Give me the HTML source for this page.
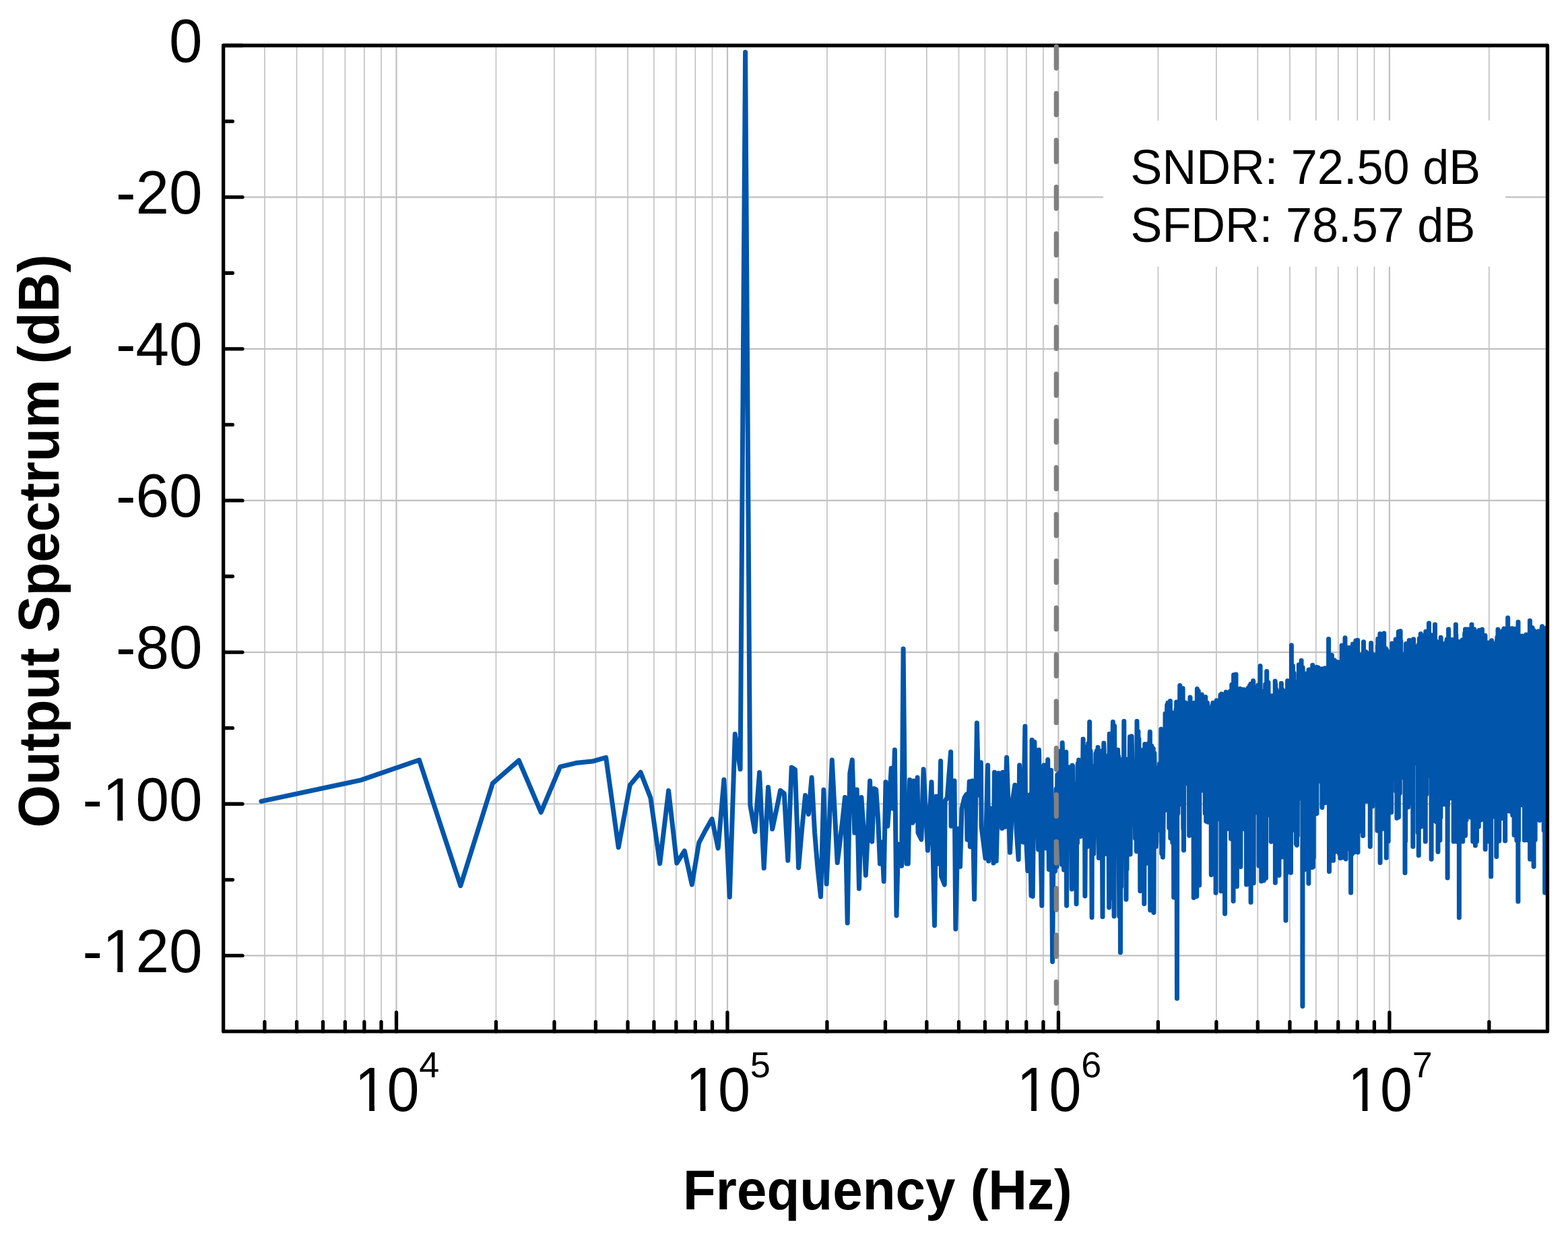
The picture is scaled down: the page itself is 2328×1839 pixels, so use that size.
<!DOCTYPE html>
<html><head><meta charset="utf-8"><title>Output Spectrum</title>
<style>html,body{margin:0;padding:0;background:#fff;overflow:hidden}svg{display:block}</style>
</head><body>
<svg width="2328" height="1839" viewBox="0 0 2328 1839">
<rect width="2328" height="1839" fill="#fff"/>
<path d="M392.92 67.5V1530.9M440.55 67.5V1530.9M479.47 67.5V1530.9M512.37 67.5V1530.9M540.87 67.5V1530.9M566.01 67.5V1530.9M736.45 67.5V1530.9M822.99 67.5V1530.9M884.39 67.5V1530.9M932.02 67.5V1530.9M970.94 67.5V1530.9M1003.84 67.5V1530.9M1032.34 67.5V1530.9M1057.48 67.5V1530.9M1227.92 67.5V1530.9M1314.46 67.5V1530.9M1375.86 67.5V1530.9M1423.49 67.5V1530.9M1462.41 67.5V1530.9M1495.31 67.5V1530.9M1523.81 67.5V1530.9M1548.95 67.5V1530.9M1719.39 67.5V1530.9M1805.93 67.5V1530.9M1867.33 67.5V1530.9M1914.96 67.5V1530.9M1953.88 67.5V1530.9M1986.78 67.5V1530.9M2015.28 67.5V1530.9M2040.42 67.5V1530.9M2210.86 67.5V1530.9" stroke="#c0c0c0" stroke-width="1.6" fill="none"/>
<path d="M588.50 67.5V1530.9M1079.97 67.5V1530.9M1571.44 67.5V1530.9M2062.91 67.5V1530.9M331.6 292.65H2297.5M331.6 517.80H2297.5M331.6 742.95H2297.5M331.6 968.10H2297.5M331.6 1193.25H2297.5M331.6 1418.40H2297.5" stroke="#c0c0c0" stroke-width="2.2" fill="none"/>
<defs><clipPath id="pc"><rect x="331.6" y="67.5" width="1965.9" height="1463.4"/></clipPath></defs><path clip-path="url(#pc)" d="M387.9 1189.4L535.8 1157.9 622.4 1128.0 683.8 1314.7 731.4 1162.7 770.3 1128.6 803.2 1205.7 831.7 1138.2 856.8 1132.2 879.3 1130.1 899.7 1124.4 918.2 1257.8 935.3 1165.2 951.1 1146.2 965.9 1184.2 979.7 1281.8 992.6 1173.6 1004.8 1281.0 1016.3 1262.9 1027.3 1313.0 1037.7 1250.9 1047.6 1232.0 1057.1 1215.6 1066.2 1259.0 1074.9 1157.3 1083.3 1331.4 1091.3 1089.5 1099.1 1141.7 1106.6 77.5 1113.8 1195.0 1120.8 1234.4 1127.6 1146.4 1134.2 1288.5 1140.5 1168.5 1146.7 1230.6 1152.7 1202.3 1158.6 1173.3 1164.3 1177.8 1169.8 1277.2 1175.2 1139.0 1180.5 1142.2 1185.6 1288.0 1190.7 1229.8 1195.6 1180.5 1200.4 1208.5 1205.1 1154.1 1209.6 1236.0 1214.1 1290.0 1218.5 1331.0 1222.9 1172.2 1227.1 1312.0 1231.2 1225.0 1235.3 1127.9 1239.3 1205.0 1243.2 1280.5 1247.0 1250.0 1250.8 1218.0 1254.5 1183.6 1258.2 1370.0 1261.8 1147.5 1265.3 1127.9 1268.8 1236.1 1272.2 1172.1 1275.5 1319.0 1278.9 1183.6 1282.1 1230.0 1285.3 1299.2 1288.5 1234.8 1291.6 1159.0 1294.7 1249.2 1297.7 1170.5 1300.7 1172.0 1303.6 1215.0 1306.5 1282.0 1309.4 1250.0 1312.2 1308.2 1315.0 1160.7 1317.8 1226.2 1320.5 1190.0 1323.2 1140.2 1325.8 1200.0 1328.4 1113.1 1331.0 1359.0 1333.6 1253.0 1336.1 1262.0 1338.6 1285.2 1341.1 962.9 1343.5 1200.0 1345.9 1282.0 1348.3 1282.0 1350.7 1157.4 1354.8 1221.3 1356.4 1159.0 1358.9 1218.0 1362.1 1154.1 1363.0 1236.0 1367.9 1246.0 1371.1 1141.8 1377.4 1262.3 1383.0 1160.7 1387.5 1373.8 1390.0 1182.0 1393.3 1282.0 1396.6 1129.5 1397.4 1300.0 1402.3 1313.1 1403.1 1189.3 1406.4 1183.6 1411.6 1116.0 1412.1 1226.2 1417.0 1159.0 1418.8 1379.0 1422.0 1230.0 1425.5 1286.3 1428.0 1200.0 1431.8 1184.2 1435.0 1179.0 1436.0 1246.3 1439.2 1160.0 1440.3 1256.8 1443.4 1159.0 1446.6 1334.7 1450.4 1072.9 1453.0 1180.0 1456.4 1131.8 1457.1 1227.4 1463.0 1273.7 1466.6 1135.8 1467.6 1278.0 1471.0 1200.0 1475.0 1281.0 1476.5 1146.3 1479.2 1278.0 1482.4 1147.4 1487.6 1229.5 1488.7 1146.3 1491.7 1227.4 1494.6 1124.2 1499.5 1265.3 1503.0 1190.0 1506.8 1165.3 1509.0 1230.0 1512.1 1275.8 1513.6 1135.8 1516.0 1200.0 1519.0 1250.0 1521.9 1078.1 1522.6 1223.0 1525.8 1292.6 1528.0 1180.0 1531.0 1329.5 1532.1 1098.2 1533.2 1330.5 1535.9 1101.3 1538.0 1240.0 1540.0 1180.0 1541.6 1261.0 1542.5 1112.9 1546.8 1344.2 1548.0 1180.0 1550.0 1135.8 1553.2 1259.0 1555.7 1127.6 1557.4 1290.5 1560.5 1143.2 1562.6 1427.4 1564.5 1200.0 1566.4 1293.3 1567.2 1234.8 1568.1 1171.1 1568.9 1286.5 1569.8 1150.0 1570.6 1224.5 1571.4 1199.9 1572.3 1133.3 1573.1 1141.3 1573.9 1115.0 1574.7 1129.1 1575.6 1176.5 1576.4 1283.2 1577.2 1102.4 1578.0 1133.4 1578.8 1242.5 1579.6 1291.1 1580.4 1134.2 1581.2 1270.0 1582.0 1151.2 1582.8 1116.2 1583.6 1344.3 1584.4 1158.6 1585.2 1161.8 1585.9 1146.1 1586.7 1142.2 1587.5 1138.8 1588.3 1151.4 1589.0 1152.7 1589.8 1169.5 1590.6 1194.7 1591.3 1319.8 1592.1 1135.9 1592.8 1137.3 1593.6 1236.7 1594.3 1163.8 1595.1 1252.0 1595.8 1265.8 1596.6 1228.0 1597.3 1179.9 1598.1 1341.8 1598.8 1206.7 1599.5 1251.6 1600.3 1133.2 1601.0 1171.6 1601.7 1127.9 1602.4 1150.0 1603.1 1189.7 1603.9 1241.6 1604.6 1181.0 1605.3 1174.5 1606.0 1183.2 1606.7 1172.2 1607.4 1154.3 1608.1 1097.0 1608.8 1170.3 1609.5 1146.3 1610.2 1108.7 1610.9 1330.1 1611.6 1226.8 1612.3 1118.1 1613.0 1160.5 1613.7 1161.2 1614.3 1256.8 1615.0 1194.0 1615.7 1103.4 1616.4 1180.9 1617.1 1150.4 1617.7 1071.5 1618.4 1223.1 1619.1 1114.8 1619.7 1154.8 1620.4 1152.7 1621.1 1361.7 1621.7 1137.4 1622.4 1231.4 1623.0 1160.2 1623.7 1267.5 1624.3 1238.5 1625.0 1167.4 1625.6 1164.1 1626.3 1214.6 1626.9 1118.5 1627.6 1168.0 1628.2 1114.5 1628.8 1144.6 1629.5 1149.4 1630.1 1109.3 1630.7 1135.4 1631.4 1273.5 1632.0 1145.5 1632.6 1259.5 1633.3 1172.5 1633.9 1251.1 1634.5 1151.8 1635.1 1151.7 1635.7 1114.8 1636.4 1239.6 1637.0 1360.8 1637.6 1131.4 1638.2 1169.2 1638.8 1103.0 1639.4 1125.0 1640.0 1212.5 1640.6 1267.5 1641.2 1192.8 1641.8 1203.0 1642.4 1122.1 1643.0 1146.0 1643.6 1228.1 1644.2 1263.5 1644.8 1245.6 1645.4 1227.9 1646.0 1232.8 1646.6 1346.9 1647.2 1089.3 1647.7 1260.3 1648.3 1190.8 1648.9 1126.2 1649.5 1134.6 1650.1 1128.5 1650.6 1226.1 1651.2 1332.7 1651.8 1117.2 1652.4 1071.5 1652.9 1184.6 1653.5 1254.1 1654.1 1360.0 1654.6 1077.5 1655.2 1159.8 1655.7 1219.4 1656.3 1246.4 1656.9 1186.6 1657.4 1152.3 1658.0 1186.8 1658.5 1113.5 1659.1 1203.2 1659.6 1112.9 1660.2 1133.3 1660.7 1122.4 1661.3 1273.5 1661.8 1360.0 1662.4 1127.0 1662.9 1243.8 1663.5 1413.8 1664.0 1209.2 1664.6 1316.3 1665.1 1198.7 1665.6 1170.0 1666.2 1152.2 1666.7 1145.5 1667.2 1150.0 1667.8 1211.2 1668.3 1202.4 1668.8 1070.5 1669.3 1212.7 1669.9 1131.3 1670.4 1227.6 1670.9 1263.0 1671.4 1146.5 1672.0 1335.0 1672.5 1140.8 1673.0 1290.2 1673.5 1127.2 1674.0 1208.7 1674.6 1158.0 1675.1 1233.2 1675.6 1134.6 1676.1 1200.0 1676.6 1143.5 1677.1 1135.9 1677.6 1093.4 1678.1 1268.0 1678.6 1183.7 1679.1 1120.5 1679.6 1104.2 1680.1 1092.8 1680.6 1115.4 1681.1 1145.9 1681.6 1138.9 1682.1 1176.0 1682.6 1150.2 1683.1 1217.3 1683.6 1160.7 1684.1 1130.5 1684.6 1215.2 1685.1 1195.8 1685.6 1244.5 1686.1 1244.3 1686.6 1157.5 1687.0 1201.1 1687.5 1263.7 1688.0 1070.5 1688.5 1136.7 1689.0 1188.8 1689.5 1138.0 1689.9 1085.5 1690.4 1177.1 1690.9 1096.5 1691.4 1196.2 1691.8 1235.5 1692.3 1144.2 1692.8 1322.4 1693.3 1252.8 1693.7 1124.2 1694.2 1193.9 1694.7 1144.0 1695.1 1254.9 1695.6 1113.6 1696.1 1159.8 1696.5 1157.4 1697.0 1141.2 1697.5 1187.7 1697.9 1138.9 1698.4 1112.3 1698.8 1341.5 1699.3 1181.7 1699.8 1104.6 1700.2 1157.4 1700.7 1109.6 1701.1 1150.5 1701.6 1107.0 1702.0 1124.5 1702.5 1113.6 1702.9 1259.9 1703.4 1154.8 1703.8 1118.1 1704.3 1281.2 1704.7 1104.0 1705.2 1157.5 1705.6 1117.9 1706.1 1185.9 1706.5 1155.9 1706.9 1103.7 1707.4 1086.3 1707.8 1351.1 1708.3 1152.3 1708.7 1180.6 1709.1 1189.5 1709.6 1137.8 1710.0 1107.3 1710.4 1131.6 1710.9 1240.5 1711.3 1226.2 1711.7 1149.9 1712.2 1111.0 1712.6 1163.4 1713.0 1354.6 1713.5 1192.8 1713.9 1117.7 1714.3 1143.2 1714.8 1154.3 1715.2 1158.6 1715.6 1139.7 1716.0 1187.0 1716.4 1256.6 1716.9 1248.7 1717.3 1182.8 1717.7 1205.1 1718.1 1153.1 1718.6 1151.8 1719.0 1232.4 1719.4 1187.8 1719.8 1219.2 1720.2 1203.1 1720.6 1174.5 1721.0 1163.8 1721.5 1133.7 1721.9 1180.1 1722.3 1148.3 1722.7 1159.8 1723.1 1195.5 1723.5 1212.1 1723.9 1082.3 1724.3 1185.9 1724.7 1267.0 1725.1 1138.8 1725.6 1193.5 1726.0 1201.8 1726.4 1272.3 1726.8 1255.0 1727.2 1213.2 1727.6 1158.5 1728.0 1179.6 1728.4 1121.3 1728.8 1111.6 1729.2 1115.6 1729.6 1202.8 1730.0 1059.3 1730.4 1082.9 1730.8 1090.4 1731.1 1074.5 1731.5 1182.6 1731.9 1058.3 1732.3 1082.6 1732.7 1046.5 1733.1 1112.6 1733.5 1135.0 1733.9 1043.2 1734.3 1121.0 1734.7 1068.5 1735.1 1132.0 1735.4 1057.6 1735.8 1228.9 1736.2 1195.5 1736.6 1108.9 1737.0 1105.9 1737.4 1040.6 1737.8 1243.9 1738.1 1117.1 1738.5 1142.7 1738.9 1118.4 1739.3 1057.2 1739.7 1100.6 1740.0 1137.9 1740.4 1092.6 1740.8 1250.7 1741.2 1089.2 1741.5 1073.4 1741.9 1136.0 1742.3 1128.5 1742.7 1331.9 1743.0 1153.3 1743.4 1331.9 1743.8 1067.5 1744.2 1148.3 1744.5 1150.9 1744.9 1113.2 1745.3 1120.2 1745.6 1063.2 1746.0 1052.5 1746.4 1079.8 1746.7 1042.1 1747.1 1158.2 1747.5 1482.0 1747.8 1153.4 1748.2 1125.9 1748.6 1066.2 1748.9 1207.3 1749.3 1089.9 1749.7 1080.5 1750.0 1140.1 1750.4 1122.6 1750.7 1085.6 1751.1 1136.1 1751.5 1057.8 1751.8 1017.5 1752.2 1193.7 1752.5 1156.1 1752.9 1076.1 1753.2 1102.7 1753.6 1132.8 1754.0 1110.5 1754.3 1039.5 1754.7 1129.5 1755.0 1157.2 1755.4 1134.1 1755.7 1159.1 1756.1 1021.7 1756.4 1079.4 1756.8 1230.3 1757.1 1099.9 1757.5 1261.9 1757.8 1180.1 1758.2 1077.3 1758.5 1161.6 1758.9 1092.1 1759.2 1070.8 1759.5 1162.3 1759.9 1042.9 1760.2 1078.8 1760.6 1076.3 1760.9 1055.4 1761.3 1090.8 1761.6 1106.2 1762.0 1119.2 1762.3 1103.2 1762.6 1122.4 1763.0 1138.3 1763.3 1162.9 1763.7 1100.7 1764.0 1116.8 1764.3 1080.9 1764.7 1071.4 1765.0 1127.8 1765.3 1056.1 1765.7 1240.3 1766.0 1043.4 1766.3 1114.2 1766.7 1104.8 1767.0 1035.0 1767.3 1114.2 1767.7 1102.4 1768.0 1132.4 1768.3 1095.9 1768.7 1088.3 1769.0 1093.1 1769.3 1133.9 1769.7 1095.5 1770.0 1101.8 1770.3 1193.8 1770.7 1075.7 1771.0 1053.4 1771.3 1203.5 1771.6 1088.5 1772.0 1163.5 1772.3 1332.4 1772.6 1059.5 1772.9 1131.4 1773.3 1043.2 1773.6 1138.9 1773.9 1131.5 1774.2 1089.2 1774.6 1096.1 1774.9 1202.2 1775.2 1076.4 1775.5 1119.5 1775.8 1110.1 1776.2 1077.4 1776.5 1074.9 1776.8 1330.5 1777.1 1092.4 1777.4 1022.6 1777.7 1235.4 1778.1 1086.0 1778.4 1101.3 1778.7 1176.3 1779.0 1174.2 1779.3 1025.7 1779.6 1231.6 1780.0 1064.3 1780.3 1096.6 1780.6 1314.0 1780.9 1079.9 1781.2 1090.0 1781.5 1080.0 1781.8 1115.5 1782.1 1145.9 1782.5 1056.5 1782.8 1110.1 1783.1 1152.4 1783.4 1116.9 1783.7 1090.6 1784.0 1165.0 1784.3 1031.0 1784.6 1040.1 1784.9 1057.6 1785.2 1135.0 1785.5 1097.9 1785.8 1172.9 1786.1 1153.6 1786.4 1084.3 1786.8 1123.2 1787.1 1100.6 1787.4 1108.6 1787.7 1144.0 1788.0 1047.2 1788.3 1086.2 1788.6 1073.0 1788.9 1062.8 1789.2 1207.2 1789.5 1119.6 1789.8 1034.4 1790.1 1107.0 1790.4 1174.9 1790.7 1219.1 1791.0 1141.7 1791.3 1214.9 1791.6 1077.6 1791.9 1100.7 1792.2 1163.5 1792.5 1043.3 1792.7 1160.6 1793.0 1091.7 1793.3 1140.0 1793.6 1220.3 1793.9 1052.8 1794.2 1130.1 1794.5 1074.7 1794.8 1080.3 1795.1 1099.6 1795.4 1077.5 1795.7 1095.3 1796.0 1143.1 1796.3 1070.6 1796.6 1068.9 1796.8 1052.0 1797.1 1089.9 1797.4 1150.1 1797.7 1119.5 1798.0 1054.8 1798.3 1298.5 1798.6 1053.6 1798.9 1077.8 1799.2 1049.5 1799.4 1075.2 1799.7 1068.4 1800.0 1046.4 1800.3 1135.9 1800.6 1193.5 1800.9 1043.2 1801.2 1253.3 1801.4 1137.5 1801.7 1144.2 1802.0 1181.4 1802.3 1116.5 1802.6 1068.8 1802.9 1080.9 1803.1 1132.3 1803.4 1079.2 1803.7 1170.3 1804.0 1141.2 1804.3 1102.3 1804.5 1093.6 1804.8 1155.8 1805.1 1325.3 1805.4 1042.7 1805.7 1090.7 1805.9 1064.8 1806.2 1039.8 1806.5 1066.5 1806.8 1058.8 1807.0 1113.6 1807.3 1105.4 1807.6 1062.9 1807.9 1051.3 1808.1 1109.3 1808.4 1049.2 1808.7 1090.8 1809.0 1058.9 1809.2 1078.9 1809.5 1104.4 1809.8 1172.5 1810.1 1092.6 1810.3 1156.0 1810.6 1170.9 1810.9 1106.9 1811.1 1100.0 1811.4 1216.4 1811.7 1096.2 1812.0 1031.8 1812.2 1044.5 1812.5 1108.4 1812.8 1089.0 1813.0 1322.7 1813.3 1058.7 1813.6 1030.0 1813.8 1070.2 1814.1 1171.9 1814.4 1078.1 1814.6 1046.4 1814.9 1148.0 1815.2 1051.1 1815.4 1062.6 1815.7 1047.1 1816.0 1073.2 1816.2 1090.7 1816.5 1115.1 1816.8 1105.6 1817.0 1067.5 1817.3 1099.9 1817.6 1124.0 1817.8 1075.4 1818.1 1143.1 1818.3 1091.6 1818.6 1356.2 1818.9 1087.6 1819.1 1134.2 1819.4 1073.6 1819.7 1094.1 1819.9 1087.7 1820.2 1027.2 1820.4 1069.0 1820.7 1197.0 1821.0 1112.7 1821.2 1159.9 1821.5 1077.4 1821.7 1054.5 1822.0 1093.6 1822.2 1148.5 1822.5 1046.6 1822.8 1230.1 1823.0 1143.0 1823.3 1072.9 1823.5 1102.9 1823.8 1167.1 1824.0 1066.8 1824.3 1063.3 1824.5 1130.3 1824.8 1056.2 1825.1 1101.7 1825.3 1063.5 1825.6 1119.2 1825.8 1170.4 1826.1 1054.8 1826.3 1026.3 1826.6 1148.8 1826.8 1125.1 1827.1 1083.0 1827.3 1041.4 1827.6 1244.9 1827.8 1061.8 1828.1 1151.0 1828.3 1088.4 1828.6 1125.4 1828.8 1016.2 1829.1 1158.1 1829.3 1075.9 1829.6 1035.2 1829.8 1203.4 1830.1 1089.5 1830.3 1055.6 1830.6 1058.1 1830.8 1101.7 1831.1 1337.5 1831.3 1098.8 1831.6 1001.7 1831.8 1180.7 1832.1 1129.9 1832.3 1098.0 1832.5 1058.5 1832.8 1139.6 1833.0 1015.6 1833.3 1083.0 1833.5 1031.1 1833.8 1109.1 1834.0 1240.0 1834.3 1099.8 1834.5 1138.6 1834.7 1079.7 1835.0 1001.0 1835.2 1224.6 1835.5 1075.9 1835.7 1143.2 1836.0 1066.0 1836.2 1131.1 1836.4 1315.7 1836.7 1070.8 1836.9 1101.3 1837.2 1108.5 1837.4 1079.9 1837.6 1179.5 1837.9 1025.5 1838.1 1154.1 1838.4 1040.1 1838.6 1141.9 1838.8 1078.3 1839.1 1040.2 1839.3 1041.3 1839.5 1129.4 1839.8 1076.7 1840.0 1154.1 1840.3 1083.9 1840.5 1102.2 1840.7 1210.7 1841.0 1022.3 1841.2 1155.6 1841.4 1095.2 1841.7 1064.6 1841.9 1286.6 1842.1 1060.7 1842.4 1177.0 1842.6 1077.7 1842.8 1065.6 1843.1 1062.2 1843.3 1135.9 1843.5 1072.7 1843.8 1145.1 1844.0 1151.0 1844.2 1023.5 1844.5 1098.1 1844.7 1065.5 1844.9 1230.6 1845.2 1139.5 1845.4 1050.0 1845.6 1166.8 1845.9 1025.6 1846.1 1139.7 1846.3 1140.6 1846.6 1023.5 1846.8 1111.3 1847.0 1078.6 1847.2 1076.4 1847.5 1085.3 1847.7 1070.4 1847.9 1044.5 1848.2 1105.4 1848.4 1074.7 1848.6 1110.9 1848.8 1063.1 1849.1 1143.4 1849.3 1076.0 1849.5 1114.5 1849.7 1052.8 1850.0 1070.6 1850.2 1103.0 1850.4 1212.2 1850.6 1312.9 1850.9 1055.4 1851.1 1224.6 1851.3 1262.7 1851.5 1032.4 1851.8 1040.9 1852.0 1303.6 1852.2 1037.3 1852.4 1044.5 1852.7 1094.1 1852.9 1021.5 1853.1 1033.7 1853.3 1123.0 1853.6 1128.2 1853.8 1098.0 1854.0 1027.7 1854.2 1205.3 1854.4 1089.5 1854.7 1097.9 1854.9 1056.7 1855.1 1084.3 1855.3 1017.9 1855.6 1153.2 1855.8 1080.1 1856.0 1110.3 1856.2 1109.1 1856.4 1075.8 1856.6 1029.1 1856.9 1015.2 1857.1 1339.2 1857.3 1203.5 1857.5 1036.0 1857.7 1069.6 1858.0 1083.5 1858.2 1082.7 1858.4 1164.9 1858.6 1075.5 1858.8 1069.9 1859.0 1088.7 1859.3 1073.4 1859.5 1100.8 1859.7 1032.8 1859.9 1085.9 1860.1 1126.8 1860.3 1171.7 1860.6 1010.4 1860.8 1012.0 1861.0 1265.0 1861.2 1310.8 1861.4 1036.1 1861.6 1068.0 1861.8 1091.7 1862.1 1161.9 1862.3 1093.8 1862.5 1161.2 1862.7 1069.1 1862.9 1046.8 1863.1 1052.1 1863.3 1059.1 1863.5 1098.1 1863.8 1120.0 1864.0 1022.7 1864.2 1114.2 1864.4 1064.1 1864.6 1057.2 1864.8 1081.3 1865.0 1142.6 1865.2 1081.3 1865.5 1026.2 1865.7 1066.1 1865.9 1035.6 1866.1 1035.9 1866.3 1026.7 1866.5 1062.1 1866.7 1071.1 1866.9 1206.5 1867.1 1133.3 1867.3 1019.8 1867.5 1119.7 1867.8 1071.7 1868.0 1016.9 1868.2 1045.3 1868.4 1134.8 1868.6 1094.9 1868.8 1063.9 1869.0 1285.0 1869.2 1259.7 1869.4 1068.3 1869.6 1137.5 1869.8 1196.5 1870.0 1068.4 1870.2 1085.9 1870.4 1110.1 1870.6 1082.4 1870.8 1137.0 1871.1 988.4 1871.3 1093.0 1871.5 1042.8 1871.7 1104.0 1871.9 1056.1 1872.1 1102.3 1872.3 1124.9 1872.5 1045.8 1872.7 1308.1 1872.9 1144.9 1873.1 1077.6 1873.3 1045.1 1873.5 1092.8 1873.7 1051.1 1873.9 1212.3 1874.1 1084.9 1874.3 1158.1 1874.5 1238.6 1874.7 1031.2 1874.9 1063.7 1875.1 1063.1 1875.3 1040.7 1875.5 1060.2 1875.7 1078.7 1875.9 1025.9 1876.1 1137.7 1876.3 1306.9 1876.5 1137.2 1876.7 1071.2 1876.9 1157.3 1877.1 1076.6 1877.3 1093.8 1877.5 1096.7 1877.7 1067.6 1877.9 1181.3 1878.1 1148.0 1878.3 1027.5 1878.5 1070.0 1878.7 1015.8 1878.9 1060.7 1879.1 1251.0 1879.3 1100.8 1879.5 1303.5 1879.7 1051.2 1879.9 1153.1 1880.1 1145.9 1880.3 1135.2 1880.5 1126.9 1880.7 996.5 1880.9 1062.8 1881.1 1027.1 1881.3 1034.4 1881.4 1044.7 1881.6 1042.1 1881.8 1042.8 1882.0 1065.8 1882.2 1027.3 1882.4 1052.5 1882.6 1090.5 1882.8 1135.1 1883.0 1013.1 1883.2 1063.9 1883.4 1197.9 1883.6 1103.6 1883.8 1106.4 1884.0 1209.6 1884.2 1117.6 1884.4 1035.1 1884.5 1062.3 1884.7 1093.5 1884.9 1119.7 1885.1 1093.2 1885.3 1067.1 1885.5 1129.7 1885.7 1082.6 1885.9 1115.1 1886.1 1129.2 1886.3 1060.8 1886.5 1062.0 1886.7 1047.9 1886.8 1078.9 1887.0 1036.7 1887.2 1249.3 1887.4 1069.1 1887.6 1152.7 1887.8 1062.5 1888.0 1177.4 1888.2 1032.7 1888.4 1083.5 1888.5 1066.2 1888.7 1215.5 1888.9 1087.2 1889.1 1244.4 1889.3 1064.7 1889.5 1131.3 1889.7 1068.5 1889.9 1101.0 1890.1 1124.3 1890.2 1121.7 1890.4 1191.9 1890.6 1076.7 1890.8 1070.8 1891.0 1046.4 1891.2 1059.5 1891.4 1136.3 1891.5 1165.6 1891.7 1151.2 1891.9 1105.8 1892.1 1040.4 1892.3 1041.9 1892.5 1113.3 1892.7 1094.1 1892.8 1059.3 1893.0 1221.1 1893.2 1010.9 1893.4 1310.3 1893.6 1140.9 1893.8 1015.7 1894.0 1098.7 1894.1 1187.3 1894.3 1099.0 1894.5 1064.9 1894.7 1023.0 1894.9 1090.5 1895.1 1057.0 1895.2 1151.5 1895.4 1045.2 1895.6 1042.4 1895.8 1050.1 1896.0 1090.2 1896.1 1091.6 1896.3 1106.2 1896.5 1059.3 1896.7 1061.0 1896.9 1034.3 1897.1 1132.5 1897.2 1027.7 1897.4 1179.8 1897.6 1057.6 1897.8 1056.9 1898.0 1029.2 1898.1 1053.3 1898.3 1156.3 1898.5 1073.3 1898.7 1072.7 1898.9 1057.8 1899.0 1299.3 1899.2 1084.3 1899.4 1075.1 1899.6 1105.4 1899.8 1062.8 1899.9 1140.6 1900.1 1069.6 1900.3 1096.6 1900.5 1134.5 1900.7 1035.9 1900.8 1057.0 1901.0 1054.7 1901.2 1183.6 1901.4 1154.9 1901.5 1123.3 1901.7 1123.5 1901.9 1023.4 1902.1 1211.7 1902.3 1034.3 1902.4 1014.3 1902.6 1104.2 1902.8 1036.7 1903.0 1073.2 1903.1 1101.7 1903.3 1125.4 1903.5 1095.7 1903.7 1272.0 1903.8 1031.2 1904.0 1124.4 1904.2 1115.4 1904.4 1065.4 1904.5 1032.8 1904.7 1024.5 1904.9 1163.7 1905.1 1087.8 1905.2 1074.3 1905.4 1232.3 1905.6 1052.2 1905.8 1042.1 1905.9 1171.4 1906.1 1076.1 1906.3 1132.4 1906.5 1025.6 1906.6 1055.6 1906.8 1151.9 1907.0 1057.9 1907.2 1090.5 1907.3 1137.1 1907.5 1066.9 1907.7 1047.6 1907.8 1049.1 1908.0 1097.8 1908.2 1069.1 1908.4 1109.4 1908.5 1060.7 1908.7 1053.6 1908.9 1063.2 1909.0 1366.3 1909.2 1128.5 1909.4 1032.7 1909.6 1094.0 1909.7 1243.4 1909.9 1296.8 1910.1 1204.8 1910.2 1036.8 1910.4 1025.5 1910.6 1279.0 1910.8 1238.8 1910.9 1059.1 1911.1 1040.9 1911.3 1145.2 1911.4 1083.3 1911.6 1010.5 1911.8 1101.3 1911.9 1050.0 1912.1 1149.0 1912.3 1067.1 1912.4 1160.9 1912.6 1080.8 1912.8 1120.8 1913.0 1095.5 1913.1 1101.1 1913.3 1089.5 1913.5 1094.3 1913.6 1166.0 1913.8 1077.7 1914.0 1056.3 1914.1 1080.3 1914.3 1041.3 1914.5 1087.3 1914.6 1027.1 1914.8 1103.0 1915.0 1074.4 1915.1 1025.4 1915.3 1081.8 1915.5 1150.3 1915.6 1233.9 1915.8 1125.3 1916.0 1080.4 1916.1 1057.4 1916.3 1151.6 1916.5 1295.3 1916.6 1225.4 1916.8 1042.6 1917.0 1234.8 1917.1 1093.8 1917.3 1050.2 1917.4 957.7 1917.6 1148.3 1917.8 1060.5 1917.9 1122.0 1918.1 1062.5 1918.3 1054.3 1918.4 1126.7 1918.6 1067.2 1918.8 1109.6 1918.9 1027.8 1919.1 1093.1 1919.3 996.8 1919.4 988.2 1919.6 1196.7 1919.7 1077.5 1919.9 1050.6 1920.1 1031.1 1920.2 1050.8 1920.4 1231.6 1920.6 1107.1 1920.7 1051.8 1920.9 1046.6 1921.0 999.1 1921.2 1054.8 1921.4 1071.8 1921.5 1052.2 1921.7 1095.3 1921.9 1050.4 1922.0 1164.5 1922.2 1069.0 1922.3 1070.7 1922.5 1058.6 1922.7 1134.1 1922.8 1038.7 1923.0 1061.9 1923.1 1093.2 1923.3 1190.9 1923.5 1066.4 1923.6 1012.7 1923.8 1176.1 1923.9 1132.7 1924.1 1184.9 1924.3 1053.5 1924.4 1252.5 1924.6 1084.9 1924.7 1066.4 1924.9 1050.5 1925.1 1078.8 1925.2 1092.4 1925.4 1038.6 1925.5 1254.6 1925.7 1111.0 1925.9 1022.1 1926.0 1054.8 1926.2 1030.6 1926.3 1240.5 1926.5 1124.9 1926.6 1077.0 1926.8 1172.8 1927.0 1019.8 1927.1 1114.0 1927.3 1112.2 1927.4 1050.0 1927.6 1060.2 1927.7 1112.1 1927.9 1152.2 1928.1 1091.0 1928.2 1015.8 1928.4 986.7 1928.5 1080.3 1928.7 1032.8 1928.8 1118.0 1929.0 1033.0 1929.2 1030.2 1929.3 1040.9 1929.5 1071.9 1929.6 1024.1 1929.8 1068.5 1929.9 1009.0 1930.1 1031.6 1930.2 1108.4 1930.4 1028.5 1930.6 1038.5 1930.7 1013.5 1930.9 1020.2 1931.0 1185.0 1931.2 1092.5 1931.3 1039.8 1931.5 1062.5 1931.6 1168.6 1931.8 1000.9 1931.9 1073.1 1932.1 980.5 1932.3 1039.3 1932.4 1050.1 1932.6 1076.1 1932.7 1060.9 1932.9 1052.9 1933.0 1045.9 1933.2 1009.8 1933.3 1089.2 1933.5 1086.8 1933.6 1007.9 1933.8 1091.4 1933.9 1493.5 1934.1 990.7 1934.2 1036.7 1934.4 1095.8 1934.5 1157.2 1934.7 1086.9 1934.9 1037.0 1935.0 1089.4 1935.2 1266.5 1935.3 1043.1 1935.5 1035.2 1935.6 1084.8 1935.8 1162.1 1935.9 1048.8 1936.1 1184.3 1936.2 1057.1 1936.4 1091.6 1936.5 1050.1 1936.7 1124.1 1936.8 1064.8 1937.0 1026.3 1937.1 1068.8 1937.3 1027.8 1937.4 1290.6 1937.6 1145.2 1937.7 1000.0 1937.9 1121.4 1938.0 1063.8 1938.2 1054.6 1938.3 1065.6 1938.5 1256.2 1938.6 1052.1 1938.8 1012.1 1938.9 1019.8 1939.1 1084.5 1939.2 1044.3 1939.4 1023.7 1939.5 1073.2 1939.7 1049.7 1939.8 1051.2 1940.0 1086.2 1940.1 1199.2 1940.3 1251.7 1940.4 1156.7 1940.5 1050.6 1940.7 1071.3 1940.8 1058.8 1941.0 1023.0 1941.1 1006.4 1941.3 1023.8 1941.4 1054.6 1941.6 1069.6 1941.7 1063.0 1941.9 1070.2 1942.0 1033.5 1942.2 998.7 1942.3 1146.1 1942.5 998.3 1942.6 1055.2 1942.8 1149.6 1942.9 1311.3 1943.0 994.2 1943.2 1077.1 1943.3 1039.0 1943.5 1051.2 1943.6 1225.1 1943.8 1071.5 1943.9 994.0 1944.1 1095.4 1944.2 1141.6 1944.4 1121.3 1944.5 1076.0 1944.6 1085.2 1944.8 1014.2 1944.9 1287.1 1945.1 1025.0 1945.2 1166.3 1945.4 1139.8 1945.5 1162.9 1945.7 1020.1 1945.8 1076.0 1946.0 1158.2 1946.1 1089.3 1946.2 1017.7 1946.4 1124.4 1946.5 1116.5 1946.7 1098.0 1946.8 1015.8 1947.0 1011.9 1947.1 1138.7 1947.2 1085.4 1947.4 1036.0 1947.5 1070.1 1947.7 1070.8 1947.8 1287.5 1948.0 1083.0 1948.1 1020.0 1948.2 1031.1 1948.4 1015.9 1948.5 1115.8 1948.7 1127.5 1948.8 987.3 1949.0 1088.4 1949.1 1090.5 1949.2 1108.8 1949.4 1029.9 1949.5 1286.9 1949.7 1036.1 1949.8 1084.9 1950.0 1048.8 1950.1 1217.5 1950.2 1273.2 1950.4 1015.4 1950.5 1052.1 1950.7 1063.4 1950.8 1049.4 1950.9 1096.5 1951.1 1155.6 1951.2 1043.8 1951.4 1136.2 1951.5 1118.1 1951.6 1029.2 1951.8 1117.3 1951.9 1074.0 1952.1 1022.1 1952.2 1092.8 1952.3 1013.6 1952.5 1115.6 1952.6 1112.7 1952.8 1092.8 1952.9 1072.4 1953.0 1010.4 1953.2 1116.8 1953.3 1050.6 1953.5 1076.8 1953.6 1187.8 1953.7 1055.0 1953.9 1036.4 1954.0 1150.4 1954.2 1081.9 1954.3 1039.4 1954.4 1007.3 1954.6 1015.8 1954.7 1025.3 1954.8 1089.7 1955.0 1207.4 1955.1 990.2 1955.3 1027.0 1955.4 1130.4 1955.5 1034.7 1955.7 1078.0 1955.8 1098.0 1956.0 1062.1 1956.1 1102.6 1956.2 1120.8 1956.4 1012.2 1956.5 1061.0 1956.6 1160.2 1956.8 1113.1 1956.9 1110.2 1957.1 990.9 1957.2 1034.3 1957.3 1048.8 1957.5 1016.1 1957.6 1101.1 1957.7 1066.1 1957.9 1040.9 1958.0 1119.7 1958.1 1024.2 1958.3 1141.6 1958.4 1061.0 1958.6 1035.0 1958.7 1041.5 1958.8 1015.6 1959.0 1027.9 1959.1 1152.6 1959.2 1010.4 1959.4 1062.5 1959.5 1044.2 1959.6 1031.9 1959.8 1088.4 1959.9 1085.2 1960.0 1133.9 1960.2 1111.8 1960.3 1081.7 1960.4 1033.2 1960.6 1065.3 1960.7 1069.4 1960.8 1092.4 1961.0 1032.5 1961.1 1050.7 1961.3 1002.8 1961.4 1108.4 1961.5 1046.3 1961.7 1063.7 1961.8 1051.7 1961.9 1035.0 1962.1 1046.8 1962.2 992.7 1962.3 1050.8 1962.5 1022.6 1962.6 1106.8 1962.7 1020.3 1962.9 1198.4 1963.0 1190.7 1963.1 1073.8 1963.3 1057.3 1963.4 1036.9 1963.5 1121.1 1963.7 1010.4 1963.8 1033.4 1963.9 1126.7 1964.1 1066.5 1964.2 1018.4 1964.3 1091.5 1964.5 1121.3 1964.6 1017.4 1964.7 1046.2 1964.8 1096.5 1965.0 1191.4 1965.1 1046.9 1965.2 1049.2 1965.4 1087.4 1965.5 1032.4 1965.6 1000.4 1965.8 1054.2 1965.9 1174.7 1966.0 1051.4 1966.2 1159.0 1966.3 1076.0 1966.4 1080.9 1966.6 1055.8 1966.7 1108.3 1966.8 1183.5 1966.9 1092.4 1967.1 991.7 1967.2 1060.9 1967.3 1108.0 1967.5 1060.9 1967.6 1014.1 1967.7 1145.7 1967.9 1024.6 1968.0 1191.5 1968.1 1188.5 1968.3 1125.8 1968.4 1032.1 1968.5 1033.8 1968.6 1081.4 1968.8 1049.1 1968.9 1099.0 1969.0 1077.5 1969.2 1021.1 1969.3 1092.7 1969.4 1030.0 1969.5 1075.0 1969.7 1042.0 1969.8 1156.4 1969.9 1091.3 1970.1 1163.4 1970.2 1102.1 1970.3 1129.0 1970.4 1116.4 1970.6 1043.4 1970.7 1061.6 1970.8 1046.2 1971.0 1002.1 1971.1 1020.1 1971.2 1069.0 1971.3 1087.5 1971.5 1024.1 1971.6 1074.8 1971.7 1076.5 1971.9 1038.3 1972.0 1041.3 1972.1 1087.8 1972.2 1088.9 1972.4 1133.9 1972.5 1039.2 1972.6 948.6 1972.8 1045.4 1972.9 1037.5 1973.0 1082.4 1973.1 1072.6 1973.3 1043.9 1973.4 1090.8 1973.5 1293.5 1973.6 1108.8 1973.8 1053.8 1973.9 1129.4 1974.0 1040.8 1974.1 1048.3 1974.3 1060.1 1974.4 1044.6 1974.5 1022.4 1974.7 1071.9 1974.8 1025.8 1974.9 1084.1 1975.0 1070.7 1975.2 1255.2 1975.3 1055.8 1975.4 1080.5 1975.5 1053.9 1975.7 1008.8 1975.8 1017.4 1975.9 1113.8 1976.0 1000.2 1976.2 1174.2 1976.3 1115.2 1976.4 1091.8 1976.5 1090.5 1976.7 1039.0 1976.8 1218.4 1976.9 990.5 1977.0 984.8 1977.2 1007.4 1977.3 993.1 1977.4 972.4 1977.5 1025.3 1977.7 1086.0 1977.8 1081.6 1977.9 1124.5 1978.0 1111.9 1978.2 1002.5 1978.3 1017.1 1978.4 1022.4 1978.5 1041.6 1978.6 1030.8 1978.8 1081.4 1978.9 1100.4 1979.0 1032.2 1979.1 1010.1 1979.3 1063.7 1979.4 1003.3 1979.5 1277.2 1979.6 1037.2 1979.8 1093.7 1979.9 1131.9 1980.0 1112.6 1980.1 1161.8 1980.2 1019.6 1980.4 1028.2 1980.5 1105.3 1980.6 1013.8 1980.7 1036.1 1980.9 1019.8 1981.0 1008.8 1981.1 1071.5 1981.2 1146.9 1981.4 980.0 1981.5 1042.6 1981.6 1065.4 1981.7 1013.4 1981.8 984.5 1982.0 1076.6 1982.1 1040.3 1982.2 1038.9 1982.3 1082.0 1982.4 1098.3 1982.6 1040.7 1982.7 1050.8 1982.8 1076.9 1982.9 1099.8 1983.1 1054.8 1983.2 1036.6 1983.3 1126.0 1983.4 1264.0 1983.5 1058.0 1983.7 1097.4 1983.8 1094.6 1983.9 1052.9 1984.0 1060.3 1984.1 1118.4 1984.3 1016.7 1984.4 1241.7 1984.5 1101.4 1984.6 1111.0 1984.7 1014.7 1984.9 1023.7 1985.0 1003.7 1985.1 1078.2 1985.2 1093.1 1985.3 1070.7 1985.5 1043.4 1985.6 987.0 1985.7 992.8 1985.8 982.7 1985.9 1030.5 1986.1 1089.2 1986.2 1015.8 1986.3 1027.7 1986.4 1083.9 1986.5 990.4 1986.7 1041.6 1986.8 1205.8 1986.9 1025.0 1987.0 1043.0 1987.1 1198.8 1987.3 1031.2 1987.4 1214.5 1987.5 1025.6 1987.6 1241.8 1987.7 1047.7 1987.8 1035.5 1988.0 1090.3 1988.1 1057.9 1988.2 1169.7 1988.3 1099.4 1988.4 1034.2 1988.6 1267.0 1988.7 1028.6 1988.8 1048.9 1988.9 1033.7 1989.0 1098.3 1989.1 1076.5 1989.3 1025.6 1989.4 1104.9 1989.5 1054.8 1989.6 1117.7 1989.7 1089.4 1989.9 1273.7 1990.0 1005.3 1990.1 1135.5 1990.2 1027.5 1990.3 1008.1 1990.4 1089.3 1990.6 1030.3 1990.7 1108.2 1990.8 1140.0 1990.9 982.2 1991.0 1021.6 1991.1 1011.8 1991.3 1024.4 1991.4 1110.3 1991.5 1065.7 1991.6 1027.0 1991.7 1110.3 1991.8 1086.8 1992.0 982.5 1992.1 998.8 1992.2 957.9 1992.3 1037.6 1992.4 1072.9 1992.5 976.6 1992.7 1069.7 1992.8 1124.5 1992.9 1047.7 1993.0 1084.1 1993.1 1058.4 1993.2 1272.6 1993.3 1135.4 1993.5 1078.9 1993.6 1049.3 1993.7 1152.6 1993.8 1012.3 1993.9 1042.2 1994.0 1018.5 1994.2 1024.5 1994.3 1086.8 1994.4 985.5 1994.5 1030.4 1994.6 998.3 1994.7 1126.6 1994.8 1203.3 1995.0 1057.3 1995.1 1083.9 1995.2 1196.6 1995.3 1099.7 1995.4 1041.8 1995.5 1144.7 1995.6 1054.3 1995.8 1013.7 1995.9 1102.0 1996.0 1105.6 1996.1 1053.4 1996.2 1056.5 1996.3 1016.9 1996.4 1122.2 1996.6 981.9 1996.7 986.6 1996.8 1130.6 1996.9 1067.4 1997.0 946.8 1997.1 1016.8 1997.2 957.2 1997.4 1003.6 1997.5 1033.7 1997.6 1113.9 1997.7 1014.1 1997.8 1084.4 1997.9 1095.2 1998.0 1068.9 1998.1 1275.1 1998.3 1053.0 1998.4 1083.9 1998.5 1104.8 1998.6 1001.6 1998.7 1106.8 1998.8 1076.7 1998.9 1015.9 1999.0 1025.6 1999.2 1002.2 1999.3 1061.4 1999.4 1102.3 1999.5 1130.4 1999.6 986.0 1999.7 1032.4 1999.8 1057.4 1999.9 1121.7 2000.1 1075.7 2000.2 1074.5 2000.3 1118.7 2000.4 1133.9 2000.5 1043.4 2000.6 1082.7 2000.7 1124.5 2000.8 1134.4 2000.9 1095.6 2001.1 1008.7 2001.2 1134.9 2001.3 1114.8 2001.4 1066.4 2001.5 1062.4 2001.6 1003.9 2001.7 1140.8 2001.8 998.9 2002.0 1046.9 2002.1 1224.8 2002.2 1005.1 2002.3 999.7 2002.4 1064.7 2002.5 1066.6 2002.6 1045.4 2002.7 966.2 2002.8 1050.2 2002.9 961.2 2003.1 991.0 2003.2 1018.5 2003.3 1183.9 2003.4 1054.1 2003.5 1135.3 2003.6 1057.8 2003.7 1060.8 2003.8 1013.2 2003.9 1118.5 2004.0 1045.0 2004.2 971.4 2004.3 1012.1 2004.4 1036.5 2004.5 1022.3 2004.6 1036.9 2004.7 1261.0 2004.8 1056.4 2004.9 1012.5 2005.0 1036.6 2005.1 1017.3 2005.3 1051.8 2005.4 1063.6 2005.5 1063.1 2005.6 1325.0 2005.7 1066.8 2005.8 1162.3 2005.9 1015.7 2006.0 1071.7 2006.1 1004.2 2006.2 988.6 2006.3 1008.4 2006.5 970.9 2006.6 976.3 2006.7 1085.0 2006.8 1012.3 2006.9 992.9 2007.0 1062.6 2007.1 1268.0 2007.2 1017.1 2007.3 1018.1 2007.4 1039.7 2007.5 1166.7 2007.6 1018.5 2007.8 1013.5 2007.9 1033.5 2008.0 1034.0 2008.1 1008.3 2008.2 1007.2 2008.3 1012.5 2008.4 1013.8 2008.5 955.9 2008.6 995.3 2008.7 1157.0 2008.8 992.4 2008.9 1008.1 2009.0 1027.4 2009.1 974.5 2009.3 1113.6 2009.4 1131.0 2009.5 1068.4 2009.6 1069.8 2009.7 1058.2 2009.8 1050.9 2009.9 1134.4 2010.0 1122.6 2010.1 1136.5 2010.2 1114.9 2010.3 969.6 2010.4 1265.1 2010.5 1032.7 2010.6 1022.3 2010.8 998.8 2010.9 1131.0 2011.0 1007.7 2011.1 1033.0 2011.2 994.7 2011.3 1003.2 2011.4 1006.4 2011.5 976.1 2011.6 995.1 2011.7 1044.5 2011.8 1036.9 2011.9 1048.7 2012.0 1029.7 2012.1 1148.5 2012.2 1031.9 2012.3 1040.9 2012.4 1085.4 2012.6 1047.0 2012.7 980.6 2012.8 1041.2 2012.9 951.0 2013.0 1003.7 2013.1 1004.2 2013.2 1123.5 2013.3 976.8 2013.4 1028.1 2013.5 1082.8 2013.6 1015.5 2013.7 997.4 2013.8 1080.0 2013.9 1124.3 2014.0 1065.7 2014.1 1026.6 2014.2 1113.8 2014.3 1001.2 2014.4 1161.8 2014.6 997.9 2014.7 1066.5 2014.8 1042.4 2014.9 1051.8 2015.0 1053.7 2015.1 1035.6 2015.2 1051.9 2015.3 976.5 2015.4 1015.9 2015.5 1010.4 2015.6 1011.7 2015.7 950.2 2015.8 1105.7 2015.9 1247.4 2016.0 1265.0 2016.1 1091.1 2016.2 1032.1 2016.3 994.4 2016.4 1037.2 2016.5 1027.2 2016.6 1058.3 2016.7 1024.1 2016.8 1059.8 2016.9 1090.9 2017.0 1029.1 2017.1 1047.8 2017.3 1079.6 2017.4 1092.8 2017.5 991.3 2017.6 985.2 2017.7 1105.8 2017.8 1032.1 2017.9 1234.3 2018.0 1023.1 2018.1 1035.8 2018.2 984.4 2018.3 1096.0 2018.4 1051.3 2018.5 1014.4 2018.6 1036.3 2018.7 1039.0 2018.8 1005.5 2018.9 1105.6 2019.0 1043.8 2019.1 1040.9 2019.2 1009.5 2019.3 1055.7 2019.4 1018.2 2019.5 1060.4 2019.6 1012.0 2019.7 1053.8 2019.8 972.0 2019.9 1121.5 2020.0 1016.4 2020.1 1020.5 2020.2 1037.5 2020.3 1032.3 2020.4 1015.5 2020.5 1116.7 2020.6 1082.8 2020.7 1061.6 2020.8 1067.3 2020.9 983.4 2021.0 983.2 2021.1 1016.2 2021.2 1036.0 2021.3 1044.5 2021.4 1065.4 2021.5 1151.3 2021.6 1020.8 2021.7 995.9 2021.8 1019.9 2022.0 1028.0 2022.1 1045.5 2022.2 1075.3 2022.3 1005.1 2022.4 992.2 2022.5 1061.3 2022.6 1097.1 2022.7 1012.1 2022.8 1002.9 2022.9 1067.3 2023.0 991.1 2023.1 1101.5 2023.2 1133.7 2023.3 990.4 2023.4 1027.5 2023.5 1139.0 2023.6 1240.5 2023.7 1042.7 2023.8 971.0 2023.9 980.0 2024.0 1095.3 2024.1 973.3 2024.2 1133.4 2024.3 1132.3 2024.4 987.7 2024.5 952.7 2024.6 1145.4 2024.7 1057.1 2024.8 1110.9 2024.9 1032.3 2025.0 1101.0 2025.1 1045.0 2025.2 1088.7 2025.3 1012.3 2025.4 1004.4 2025.5 989.8 2025.6 1189.6 2025.7 1076.0 2025.8 996.8 2025.9 1016.6 2026.0 1091.9 2026.1 1049.4 2026.2 1064.3 2026.3 1144.6 2026.3 1007.8 2026.4 969.8 2026.5 1024.8 2026.6 1079.5 2026.7 1023.9 2026.8 996.5 2026.9 1182.6 2027.0 1100.4 2027.1 973.7 2027.2 1019.4 2027.3 1016.8 2027.4 1129.3 2027.5 1089.5 2027.6 1097.4 2027.7 1104.7 2027.8 1032.5 2027.9 967.6 2028.0 1130.9 2028.1 982.1 2028.2 1071.5 2028.3 1103.5 2028.4 1049.8 2028.5 1121.9 2028.6 1073.4 2028.7 1014.2 2028.8 1046.1 2028.9 1111.6 2029.0 1189.2 2029.1 1076.4 2029.2 1052.7 2029.3 1022.9 2029.4 1063.5 2029.5 990.6 2029.6 989.4 2029.7 1005.2 2029.8 1070.1 2029.9 1047.6 2030.0 1129.9 2030.1 1024.1 2030.2 1019.5 2030.3 1070.2 2030.4 969.7 2030.5 998.3 2030.6 1125.3 2030.7 1028.9 2030.8 1064.8 2030.9 1014.4 2031.0 1051.7 2031.0 1134.5 2031.1 1074.7 2031.2 1029.9 2031.3 1103.9 2031.4 1060.7 2031.5 998.8 2031.6 1160.0 2031.7 1016.6 2031.8 1096.3 2031.9 1187.5 2032.0 1074.3 2032.1 1064.9 2032.2 994.7 2032.3 1134.4 2032.4 1017.2 2032.5 1148.5 2032.6 1021.2 2032.7 1002.6 2032.8 1165.9 2032.9 1023.9 2033.0 1042.4 2033.1 1080.8 2033.2 1057.1 2033.3 989.3 2033.4 1027.2 2033.5 1082.9 2033.5 1026.3 2033.6 1021.0 2033.7 1005.5 2033.8 1054.0 2033.9 1078.3 2034.0 988.8 2034.1 1149.1 2034.2 1009.4 2034.3 1256.6 2034.4 1050.3 2034.5 1053.2 2034.6 1121.2 2034.7 1028.7 2034.8 1037.0 2034.9 1096.3 2035.0 1014.1 2035.1 1085.7 2035.2 1019.0 2035.3 1028.2 2035.4 1001.4 2035.5 1046.1 2035.5 1122.0 2035.6 954.4 2035.7 1101.7 2035.8 1010.2 2035.9 1060.5 2036.0 1031.6 2036.1 1160.3 2036.2 1059.3 2036.3 997.2 2036.4 1073.3 2036.5 991.3 2036.6 1026.8 2036.7 1123.7 2036.8 1092.5 2036.9 1034.5 2037.0 1062.0 2037.1 1025.2 2037.2 1037.4 2037.2 989.8 2037.3 1040.9 2037.4 1027.5 2037.5 1150.8 2037.6 1017.6 2037.7 980.4 2037.8 1196.7 2037.9 1032.1 2038.0 982.8 2038.1 1003.4 2038.2 970.9 2038.3 1032.0 2038.4 1037.7 2038.5 1046.8 2038.6 1029.9 2038.7 1008.1 2038.7 1104.6 2038.8 1164.2 2038.9 997.6 2039.0 1019.6 2039.1 975.4 2039.2 1186.2 2039.3 1017.1 2039.4 1026.6 2039.5 1186.5 2039.6 985.8 2039.7 1008.2 2039.8 1040.1 2039.9 997.6 2040.0 1025.3 2040.1 1033.0 2040.1 1014.8 2040.2 1122.6 2040.3 1049.0 2040.4 1060.9 2040.5 1006.1 2040.6 992.0 2040.7 1098.0 2040.8 990.2 2040.9 1065.6 2041.0 972.4 2041.1 1030.1 2041.2 1094.5 2041.3 1097.5 2041.3 982.1 2041.4 975.1 2041.5 1075.1 2041.6 1001.3 2041.7 1030.7 2041.8 1068.1 2041.9 1017.7 2042.0 1049.3 2042.1 981.1 2042.2 1099.5 2042.3 1101.6 2042.4 1052.4 2042.4 1187.5 2042.5 1110.0 2042.6 1017.7 2042.7 1034.2 2042.8 1014.2 2042.9 977.0 2043.0 1023.7 2043.1 1042.9 2043.2 1065.6 2043.3 1088.5 2043.4 1045.9 2043.5 1055.8 2043.5 983.4 2043.6 998.4 2043.7 1004.3 2043.8 973.8 2043.9 1055.1 2044.0 1068.9 2044.1 1061.7 2044.2 1055.0 2044.3 1078.6 2044.4 1015.3 2044.5 1054.0 2044.6 1029.0 2044.6 1000.4 2044.7 1081.5 2044.8 1054.0 2044.9 1232.7 2045.0 1056.8 2045.1 999.6 2045.2 993.1 2045.3 1027.8 2045.4 958.7 2045.5 1135.4 2045.5 1040.3 2045.6 1019.1 2045.7 1067.4 2045.8 948.3 2045.9 1007.2 2046.0 1159.1 2046.1 1019.3 2046.2 985.4 2046.3 1070.8 2046.4 1022.5 2046.4 995.8 2046.5 998.2 2046.6 1032.1 2046.7 1073.6 2046.8 1009.3 2046.9 983.9 2047.0 977.0 2047.1 1065.4 2047.2 993.8 2047.3 1069.4 2047.3 1008.9 2047.4 1004.5 2047.5 1030.8 2047.6 947.7 2047.7 1012.0 2047.8 1008.9 2047.9 1061.4 2048.0 1049.4 2048.1 982.8 2048.2 1044.2 2048.2 1123.6 2048.3 1018.9 2048.4 993.0 2048.5 1027.8 2048.6 1083.5 2048.7 1005.9 2048.8 1045.3 2048.9 940.8 2049.0 1020.5 2049.0 1024.0 2049.1 1280.6 2049.2 1071.4 2049.3 1057.9 2049.4 1007.8 2049.5 1054.6 2049.6 1017.9 2049.7 1072.9 2049.8 1084.4 2049.8 1146.8 2049.9 1027.1 2050.0 1073.9 2050.1 1038.0 2050.2 1022.1 2050.3 1085.1 2050.4 1050.2 2050.5 1003.3 2050.6 1119.0 2050.6 1058.3 2050.7 971.5 2050.8 1105.5 2050.9 964.4 2051.0 1006.4 2051.1 1067.3 2051.2 1048.1 2051.3 1017.2 2051.3 1172.3 2051.4 1002.8 2051.5 986.6 2051.6 1058.9 2051.7 995.0 2051.8 1059.0 2051.9 1006.5 2052.0 1095.4 2052.0 1112.3 2052.1 1209.4 2052.2 1027.7 2052.3 1048.5 2052.4 1077.7 2052.5 1041.5 2052.6 1193.1 2052.7 1040.1 2052.8 1106.9 2052.8 1002.1 2052.9 1020.9 2053.0 1032.2 2053.1 1045.9 2053.2 1106.0 2053.3 1032.1 2053.4 1042.0 2053.4 1019.5 2053.5 1072.7 2053.6 1062.0 2053.7 1081.4 2053.8 1077.8 2053.9 1097.0 2054.0 1211.6 2054.1 1230.1 2054.1 1015.1 2054.2 954.7 2054.3 984.5 2054.4 987.6 2054.5 984.3 2054.6 971.7 2054.7 1023.8 2054.8 1003.3 2054.8 940.0 2054.9 1115.2 2055.0 1036.8 2055.1 996.1 2055.2 1012.9 2055.3 1078.8 2055.4 971.4 2055.4 993.7 2055.5 1023.5 2055.6 988.2 2055.7 1019.6 2055.8 1008.0 2055.9 1045.9 2056.0 1013.8 2056.0 1052.2 2056.1 987.3 2056.2 1089.5 2056.3 1016.3 2056.4 1051.5 2056.5 1003.8 2056.6 1002.4 2056.6 974.3 2056.7 987.0 2056.8 1120.9 2056.9 1069.1 2057.0 1043.7 2057.1 1075.2 2057.2 993.6 2057.2 1099.8 2057.3 995.3 2057.4 962.6 2057.5 1020.3 2057.6 1046.7 2057.7 1214.2 2057.8 1056.3 2057.8 975.5 2057.9 1020.7 2058.0 1149.7 2058.1 1017.2 2058.2 1009.2 2058.3 1273.2 2058.4 1081.6 2058.4 1131.9 2058.5 964.5 2058.6 1007.9 2058.7 1036.1 2058.8 1043.2 2058.9 974.5 2059.0 1039.2 2059.0 970.1 2059.1 1029.9 2059.2 1086.5 2059.3 1095.5 2059.4 994.7 2059.5 1007.1 2059.5 1140.4 2059.6 1018.5 2059.7 1035.6 2059.8 1018.8 2059.9 1054.0 2060.0 979.6 2060.1 1076.6 2060.1 1030.2 2060.2 1030.3 2060.3 1137.1 2060.4 1005.6 2060.5 1010.8 2060.6 1016.5 2060.6 1010.4 2060.7 1190.0 2060.8 1081.3 2060.9 972.1 2061.0 990.8 2061.1 984.8 2061.2 977.1 2061.2 1248.4 2061.3 1083.1 2061.4 1121.3 2061.5 1043.7 2061.6 1073.6 2061.7 1012.2 2061.7 1043.7 2061.8 1091.1 2061.9 1027.0 2062.0 999.0 2062.1 989.9 2062.2 982.2 2062.2 1037.2 2062.3 1000.3 2062.4 1003.4 2062.5 1060.0 2062.6 1085.4 2062.7 1075.2 2062.7 981.0 2062.8 992.0 2062.9 1026.1 2063.0 1090.9 2063.1 1006.6 2063.2 995.8 2063.2 1016.5 2063.3 1124.2 2063.4 1059.2 2063.5 1126.5 2063.6 1005.2 2063.7 1048.1 2063.7 1024.4 2063.8 1077.9 2063.9 1015.7 2064.0 1114.9 2064.1 1110.6 2064.2 1076.0 2064.2 1036.8 2064.3 997.1 2064.4 1159.4 2064.5 1064.1 2064.6 1032.3 2064.7 987.1 2064.7 997.4 2064.8 1168.8 2064.9 1052.4 2065.0 996.6 2065.1 1103.1 2065.1 1027.4 2065.2 1026.0 2065.3 1069.7 2065.4 966.7 2065.5 1031.3 2065.6 1009.6 2065.6 1018.1 2065.7 1205.8 2065.8 1039.7 2065.9 1031.0 2066.0 1071.9 2066.1 1071.1 2066.1 1158.3 2066.2 1052.7 2066.3 972.1 2066.4 1073.0 2066.5 1113.5 2066.5 1035.4 2066.6 1012.3 2066.7 1037.3 2066.8 955.0 2066.9 964.6 2067.0 1028.4 2067.0 1080.9 2067.1 973.3 2067.2 1014.0 2067.3 1063.5 2067.4 1083.1 2067.4 1099.8 2067.5 961.0 2067.6 1108.3 2067.7 1009.7 2067.8 1025.6 2067.9 966.3 2067.9 961.3 2068.0 1026.2 2068.1 957.5 2068.2 1003.6 2068.3 1003.7 2068.3 971.6 2068.4 1096.9 2068.5 1040.2 2068.6 979.4 2068.7 1028.0 2068.7 1032.1 2068.8 1036.6 2068.9 1034.0 2069.0 1007.9 2069.1 1017.3 2069.2 995.0 2069.2 1040.7 2069.3 1062.6 2069.4 991.6 2069.5 1094.0 2069.6 1017.8 2069.6 1035.1 2069.7 1032.6 2069.8 1002.7 2069.9 1024.1 2070.0 1085.7 2070.0 1115.4 2070.1 1029.7 2070.2 1064.1 2070.3 1020.9 2070.4 966.4 2070.4 1016.3 2070.5 1085.9 2070.6 1025.8 2070.7 1048.4 2070.8 1018.1 2070.8 1057.6 2070.9 1132.8 2071.0 1066.1 2071.1 1012.1 2071.2 1011.5 2071.2 1057.1 2071.3 1028.9 2071.4 999.8 2071.5 1030.6 2071.6 1032.0 2071.6 996.5 2071.7 1020.2 2071.8 1040.1 2071.9 970.1 2072.0 990.8 2072.0 1019.1 2072.1 989.9 2072.2 949.0 2072.3 1063.3 2072.4 1091.6 2072.4 1033.7 2072.5 1001.7 2072.6 984.2 2072.7 1087.3 2072.8 1174.5 2072.8 1036.9 2072.9 1009.6 2073.0 1035.2 2073.1 1037.9 2073.2 967.6 2073.2 975.3 2073.3 1149.2 2073.4 1024.8 2073.5 989.9 2073.6 1050.5 2073.6 993.0 2073.7 1014.8 2073.8 1001.7 2073.9 1214.2 2074.0 970.1 2074.0 1039.9 2074.1 1041.4 2074.2 1030.1 2074.3 1083.4 2074.4 1126.6 2074.4 1103.7 2074.5 1028.3 2074.6 984.2 2074.7 1025.8 2074.7 970.5 2074.8 1061.2 2074.9 980.3 2075.0 1033.4 2075.1 1012.3 2075.1 967.0 2075.2 954.7 2075.3 1076.6 2075.4 1022.9 2075.5 1051.9 2075.5 1067.9 2075.6 1008.6 2075.7 1019.0 2075.8 1088.5 2075.8 1075.5 2075.9 1021.2 2076.0 991.3 2076.1 999.3 2076.2 1105.5 2076.2 1176.8 2076.3 937.7 2076.4 1213.0 2076.5 1098.0 2076.6 1029.4 2076.6 1016.5 2076.7 1073.0 2076.8 1097.0 2076.9 1036.1 2076.9 1012.5 2077.0 1031.8 2077.1 1062.3 2077.2 1036.6 2077.3 1119.8 2077.3 962.9 2077.4 1094.6 2077.5 1066.5 2077.6 1107.3 2077.6 1041.5 2077.7 1008.9 2077.8 1041.2 2077.9 1045.0 2078.0 992.4 2078.0 1008.8 2078.1 1030.0 2078.2 1031.1 2078.3 1177.6 2078.3 1090.7 2078.4 1052.6 2078.5 1049.9 2078.6 998.1 2078.7 1005.8 2078.7 1045.2 2078.8 1098.1 2078.9 1003.2 2079.0 1075.5 2079.0 1097.2 2079.1 936.8 2079.2 985.2 2079.3 1023.5 2079.4 978.8 2079.4 973.8 2079.5 1039.0 2079.6 1022.8 2079.7 957.8 2079.7 985.1 2079.8 951.6 2079.9 995.5 2080.0 983.2 2080.0 1094.0 2080.1 976.2 2080.2 1073.8 2080.3 995.4 2080.4 979.2 2080.4 1090.9 2080.5 1023.9 2080.6 1021.2 2080.7 1068.6 2080.7 1110.4 2080.8 1031.2 2080.9 973.3 2081.0 1031.9 2081.0 1036.1 2081.1 1052.7 2081.2 1009.5 2081.3 989.3 2081.3 1017.0 2081.4 984.8 2081.5 1113.6 2081.6 1020.7 2081.7 1060.4 2081.7 1031.5 2081.8 1082.9 2081.9 1010.4 2082.0 1138.7 2082.0 998.1 2082.1 976.8 2082.2 1002.3 2082.3 972.8 2082.3 984.9 2082.4 1078.1 2082.5 1104.2 2082.6 1043.9 2082.6 1005.6 2082.7 1023.8 2082.8 1019.9 2082.9 1134.8 2082.9 1043.4 2083.0 1126.9 2083.1 1070.3 2083.2 1083.7 2083.3 1043.9 2083.3 1024.6 2083.4 1074.8 2083.5 1082.1 2083.6 1053.2 2083.6 990.9 2083.7 1005.6 2083.8 1064.3 2083.9 1069.9 2083.9 1001.7 2084.0 1152.1 2084.1 1072.0 2084.2 1081.4 2084.2 1037.2 2084.3 1053.4 2084.4 990.8 2084.5 1003.4 2084.5 1086.2 2084.6 1013.9 2084.7 1034.8 2084.8 1154.7 2084.8 1006.1 2084.9 987.6 2085.0 1037.3 2085.1 1042.3 2085.1 985.3 2085.2 1038.3 2085.3 972.9 2085.4 980.8 2085.4 1118.3 2085.5 1084.2 2085.6 977.1 2085.7 971.0 2085.7 1032.1 2085.8 1126.4 2085.9 989.3 2086.0 1295.4 2086.0 1017.6 2086.1 1158.1 2086.2 1069.4 2086.3 984.3 2086.3 1018.5 2086.4 1087.0 2086.5 1009.7 2086.6 1076.1 2086.6 980.2 2086.7 1248.4 2086.8 1049.1 2086.9 1052.7 2086.9 985.1 2087.0 1021.8 2087.1 1109.1 2087.2 1074.6 2087.2 1037.0 2087.3 1011.3 2087.4 1066.1 2087.5 1025.5 2087.5 955.6 2087.6 984.1 2087.7 986.9 2087.8 988.9 2087.8 993.5 2087.9 1015.5 2088.0 1019.9 2088.0 973.5 2088.1 1143.3 2088.2 971.4 2088.3 1073.7 2088.3 1046.4 2088.4 1057.2 2088.5 1009.0 2088.6 968.4 2088.6 1032.1 2088.7 1023.4 2088.8 963.2 2088.9 993.1 2088.9 964.2 2089.0 1024.4 2089.1 963.9 2089.2 1077.5 2089.2 1168.7 2089.3 1036.5 2089.4 977.7 2089.5 1013.5 2089.5 1082.8 2089.6 1076.6 2089.7 1058.1 2089.7 1021.1 2089.8 969.0 2089.9 1051.9 2090.0 1015.2 2090.0 978.2 2090.1 1018.2 2090.2 1006.9 2090.3 1010.0 2090.3 960.5 2090.4 1062.8 2090.5 1108.5 2090.6 1008.9 2090.6 1198.0 2090.7 1076.9 2090.8 1054.2 2090.8 1087.9 2090.9 1065.6 2091.0 1016.3 2091.1 1001.7 2091.1 1084.3 2091.2 996.2 2091.3 1062.4 2091.4 1180.9 2091.4 1040.7 2091.5 1048.5 2091.6 1014.4 2091.7 1028.2 2091.7 1041.5 2091.8 1192.4 2091.9 1061.0 2091.9 1016.6 2092.0 1012.0 2092.1 1093.8 2092.2 995.5 2092.2 950.6 2092.3 1023.3 2092.4 1018.7 2092.5 1016.1 2092.5 1066.4 2092.6 1002.9 2092.7 1001.8 2092.7 1012.6 2092.8 1062.3 2092.9 1004.9 2093.0 998.7 2093.0 1022.2 2093.1 955.1 2093.2 950.6 2093.2 986.7 2093.3 1044.0 2093.4 996.1 2093.5 1011.8 2093.5 1022.4 2093.6 1026.5 2093.7 1073.5 2093.8 1066.7 2093.8 989.0 2093.9 1031.4 2094.0 1034.8 2094.0 996.8 2094.1 1170.2 2094.2 1068.8 2094.3 1175.7 2094.3 1013.0 2094.4 1034.6 2094.5 1009.0 2094.5 1037.0 2094.6 989.2 2094.7 994.1 2094.8 1111.5 2094.8 1167.2 2094.9 1018.4 2095.0 977.4 2095.0 1117.6 2095.1 1014.7 2095.2 1143.8 2095.3 1138.6 2095.3 1110.6 2095.4 998.1 2095.5 1087.1 2095.6 1025.8 2095.6 1024.1 2095.7 988.4 2095.8 1008.8 2095.8 1056.4 2095.9 1011.0 2096.0 1001.4 2096.1 1014.0 2096.1 1074.8 2096.2 1115.6 2096.3 984.0 2096.3 1094.3 2096.4 1018.2 2096.5 1006.6 2096.5 1008.2 2096.6 1181.4 2096.7 1040.7 2096.8 1096.5 2096.8 1035.1 2096.9 1012.7 2097.0 983.5 2097.0 950.5 2097.1 1000.1 2097.2 1147.7 2097.3 1067.3 2097.3 1060.5 2097.4 1055.4 2097.5 991.9 2097.5 1012.4 2097.6 1115.2 2097.7 1062.9 2097.8 1060.1 2097.8 1256.6 2097.9 1143.4 2098.0 1027.9 2098.0 1032.7 2098.1 1038.3 2098.2 997.2 2098.3 997.1 2098.3 972.4 2098.4 1050.8 2098.5 961.2 2098.5 977.3 2098.6 1026.8 2098.7 948.8 2098.7 1064.1 2098.8 1062.7 2098.9 1030.9 2099.0 1037.5 2099.0 1003.6 2099.1 1125.0 2099.2 1110.6 2099.2 1050.6 2099.3 1037.7 2099.4 1027.9 2099.4 1048.0 2099.5 1025.9 2099.6 1056.0 2099.7 1002.0 2099.7 1046.6 2099.8 1001.6 2099.9 1066.6 2099.9 1025.2 2100.0 985.2 2100.1 992.7 2100.2 1022.9 2100.2 999.4 2100.3 1037.7 2100.4 1035.7 2100.4 1062.3 2100.5 1103.9 2100.6 1029.1 2100.6 1054.1 2100.7 987.2 2100.8 983.4 2100.9 961.8 2100.9 997.0 2101.0 1054.8 2101.1 1029.1 2101.1 1033.2 2101.2 990.5 2101.3 1023.8 2101.3 996.2 2101.4 991.6 2101.5 1062.9 2101.5 964.2 2101.6 1114.1 2101.7 966.5 2101.8 996.7 2101.8 966.3 2101.9 1029.8 2102.0 963.2 2102.0 1129.2 2102.1 988.7 2102.2 1012.0 2102.2 1009.7 2102.3 1023.3 2102.4 962.3 2102.4 978.1 2102.5 1077.2 2102.6 1002.9 2102.7 988.5 2102.7 1040.3 2102.8 984.6 2102.9 987.0 2102.9 1005.3 2103.0 1034.0 2103.1 1007.7 2103.1 1061.2 2103.2 986.6 2103.3 974.0 2103.3 969.1 2103.4 1017.5 2103.5 1133.3 2103.6 978.0 2103.6 1082.6 2103.7 969.0 2103.8 1037.1 2103.8 1003.6 2103.9 1006.3 2104.0 980.0 2104.0 994.4 2104.1 1020.8 2104.2 960.2 2104.2 1054.3 2104.3 1021.5 2104.4 981.2 2104.4 971.4 2104.5 1040.0 2104.6 998.5 2104.7 989.9 2104.7 1089.7 2104.8 1017.1 2104.9 999.5 2104.9 1061.7 2105.0 1072.6 2105.1 984.4 2105.1 959.0 2105.2 1235.7 2105.3 1043.0 2105.3 1002.1 2105.4 1158.1 2105.5 1112.8 2105.5 996.0 2105.6 1042.0 2105.7 1001.0 2105.7 1016.4 2105.8 1138.1 2105.9 971.3 2106.0 1034.3 2106.0 1080.8 2106.1 1014.6 2106.2 957.0 2106.2 1013.4 2106.3 1269.6 2106.4 1047.7 2106.4 1025.5 2106.5 1098.7 2106.6 1019.8 2106.6 993.8 2106.7 1017.0 2106.8 1045.5 2106.8 1001.5 2106.9 1103.3 2107.0 1024.7 2107.0 1088.9 2107.1 1113.9 2107.2 1036.8 2107.2 1007.5 2107.3 1012.3 2107.4 1139.4 2107.4 947.5 2107.5 1011.0 2107.6 1073.2 2107.7 1072.9 2107.7 1024.2 2107.8 1014.8 2107.9 1034.7 2107.9 1002.9 2108.0 1094.7 2108.1 996.2 2108.1 1076.0 2108.2 1074.0 2108.3 1065.6 2108.3 971.2 2108.4 983.6 2108.5 1107.4 2108.5 1042.9 2108.6 1044.8 2108.7 988.6 2108.7 1081.1 2108.8 995.7 2108.9 983.4 2108.9 999.8 2109.0 998.0 2109.1 1016.5 2109.1 1001.8 2109.2 1108.2 2109.3 940.8 2109.3 977.6 2109.4 944.3 2109.5 1036.9 2109.5 999.9 2109.6 1057.9 2109.7 1227.1 2109.7 1088.8 2109.8 1088.2 2109.9 989.3 2109.9 1014.4 2110.0 1042.7 2110.1 1021.5 2110.1 992.9 2110.2 1081.3 2110.3 1056.3 2110.3 993.2 2110.4 1041.4 2110.5 1086.0 2110.5 943.1 2110.6 992.4 2110.7 1025.6 2110.7 1068.6 2110.8 966.5 2110.9 1108.2 2110.9 982.8 2111.0 944.5 2111.1 1034.2 2111.1 1006.8 2111.2 1021.4 2111.3 1014.2 2111.3 1012.4 2111.4 1076.2 2111.5 989.8 2111.5 1026.5 2111.6 1016.2 2111.7 1011.9 2111.7 1032.6 2111.8 991.2 2111.9 1066.3 2111.9 1076.6 2112.0 971.2 2112.1 973.4 2112.1 1031.6 2112.2 1014.4 2112.3 1055.6 2112.3 1039.3 2112.4 1038.2 2112.5 972.4 2112.5 1040.2 2112.6 1023.7 2112.7 1032.6 2112.7 979.5 2112.8 1180.1 2112.9 1101.7 2112.9 1154.9 2113.0 1010.8 2113.1 1015.3 2113.1 978.8 2113.2 1033.4 2113.3 1006.5 2113.3 1011.4 2113.4 999.9 2113.5 1062.2 2113.5 1001.7 2113.6 978.4 2113.7 1021.6 2113.7 958.5 2113.8 1026.2 2113.8 1112.3 2113.9 1058.9 2114.0 1052.6 2114.0 1169.0 2114.1 970.6 2114.2 1037.1 2114.2 1053.8 2114.3 1178.5 2114.4 963.3 2114.4 996.6 2114.5 1014.8 2114.6 995.1 2114.6 1071.8 2114.7 960.9 2114.8 1048.2 2114.8 986.4 2114.9 996.4 2115.0 1052.4 2115.0 1027.2 2115.1 1010.7 2115.2 1046.7 2115.2 1021.8 2115.3 1046.7 2115.4 950.6 2115.4 966.4 2115.5 1024.4 2115.5 971.8 2115.6 996.4 2115.7 1115.8 2115.7 1019.9 2115.8 1012.6 2115.9 1025.0 2115.9 1067.1 2116.0 1151.5 2116.1 1113.6 2116.1 1024.5 2116.2 973.7 2116.3 1249.0 2116.3 982.4 2116.4 1014.0 2116.5 1033.5 2116.5 1100.8 2116.6 1016.9 2116.7 1019.6 2116.7 994.0 2116.8 937.5 2116.8 1016.9 2116.9 1055.3 2117.0 1040.9 2117.0 1111.2 2117.1 1022.0 2117.2 971.6 2117.2 1008.2 2117.3 1067.7 2117.4 980.6 2117.4 1128.4 2117.5 1098.7 2117.6 994.7 2117.6 1062.6 2117.7 1017.1 2117.8 1026.6 2117.8 1179.1 2117.9 1011.9 2117.9 1093.7 2118.0 988.9 2118.1 1032.7 2118.1 1025.4 2118.2 1022.8 2118.3 1082.4 2118.3 984.6 2118.4 1071.6 2118.5 970.0 2118.5 996.1 2118.6 978.9 2118.7 1075.8 2118.7 1014.1 2118.8 976.9 2118.8 1021.2 2118.9 996.5 2119.0 1065.9 2119.0 1100.8 2119.1 1038.8 2119.2 1026.0 2119.2 1045.8 2119.3 1004.3 2119.4 1044.4 2119.4 1073.6 2119.5 1135.0 2119.6 1092.4 2119.6 996.5 2119.7 1003.2 2119.7 1013.1 2119.8 965.1 2119.9 1019.5 2119.9 1090.9 2120.0 1035.0 2120.1 1083.6 2120.1 979.1 2120.2 1001.0 2120.3 977.9 2120.3 993.0 2120.4 995.7 2120.4 1083.7 2120.5 988.9 2120.6 1020.5 2120.6 1077.6 2120.7 982.6 2120.8 1028.1 2120.8 1005.9 2120.9 1116.5 2121.0 1011.5 2121.0 1111.1 2121.1 1151.0 2121.1 1039.6 2121.2 1023.4 2121.3 1068.7 2121.3 1072.6 2121.4 1011.0 2121.5 1082.3 2121.5 925.0 2121.6 1124.8 2121.6 1078.8 2121.7 1067.3 2121.8 993.6 2121.8 1021.9 2121.9 946.9 2122.0 997.6 2122.0 1125.4 2122.1 1012.3 2122.2 1091.4 2122.2 1004.1 2122.3 1051.3 2122.3 1005.6 2122.4 1030.7 2122.5 996.3 2122.5 1027.1 2122.6 941.0 2122.7 1008.1 2122.7 1009.2 2122.8 983.2 2122.8 973.2 2122.9 1136.7 2123.0 989.3 2123.0 1026.8 2123.1 1092.2 2123.2 982.4 2123.2 971.6 2123.3 998.6 2123.4 1048.0 2123.4 990.3 2123.5 1012.2 2123.5 997.6 2123.6 1026.6 2123.7 979.8 2123.7 1028.9 2123.8 1091.8 2123.9 1024.0 2123.9 958.8 2124.0 1010.3 2124.0 1028.2 2124.1 1091.8 2124.2 973.6 2124.2 1006.3 2124.3 1078.2 2124.4 1063.3 2124.4 1114.4 2124.5 994.3 2124.5 1035.0 2124.6 1018.4 2124.7 1119.1 2124.7 994.0 2124.8 1044.0 2124.9 1029.3 2124.9 1078.6 2125.0 1032.2 2125.0 1112.6 2125.1 1275.3 2125.2 988.7 2125.2 1088.4 2125.3 1089.2 2125.4 959.8 2125.4 1001.4 2125.5 1086.0 2125.5 966.5 2125.6 1011.3 2125.7 1012.0 2125.7 1150.1 2125.8 1016.0 2125.9 1001.9 2125.9 1159.5 2126.0 1219.3 2126.0 1000.8 2126.1 1004.2 2126.2 1105.4 2126.2 1020.9 2126.3 1013.8 2126.3 1013.1 2126.4 1052.9 2126.5 1110.0 2126.5 994.4 2126.6 987.3 2126.7 1023.8 2126.7 989.0 2126.8 1013.8 2126.8 1035.9 2126.9 1006.8 2127.0 1030.2 2127.0 1027.8 2127.1 1020.2 2127.2 1038.6 2127.2 973.4 2127.3 1194.3 2127.3 1004.0 2127.4 1051.2 2127.5 959.2 2127.5 945.3 2127.6 1102.0 2127.6 1059.2 2127.7 1088.4 2127.8 1157.5 2127.8 1049.7 2127.9 1030.1 2128.0 1013.0 2128.0 1022.1 2128.1 1009.6 2128.1 998.6 2128.2 1022.1 2128.3 1024.7 2128.3 997.8 2128.4 978.5 2128.4 984.2 2128.5 989.9 2128.6 1005.0 2128.6 1011.2 2128.7 960.5 2128.7 1005.9 2128.8 1065.7 2128.9 1009.2 2128.9 993.4 2129.0 1000.0 2129.1 1013.0 2129.1 1040.2 2129.2 974.4 2129.2 1017.7 2129.3 941.8 2129.4 1041.8 2129.4 972.3 2129.5 981.3 2129.5 1001.3 2129.6 1070.2 2129.7 1002.0 2129.7 1108.9 2129.8 1091.1 2129.8 1013.0 2129.9 1175.7 2130.0 996.6 2130.0 1039.8 2130.1 984.6 2130.2 1144.0 2130.2 1053.3 2130.3 1021.9 2130.3 993.7 2130.4 1008.9 2130.5 1005.9 2130.5 927.0 2130.6 1076.7 2130.6 963.8 2130.7 989.7 2130.8 1049.0 2130.8 954.6 2130.9 1026.0 2130.9 1065.4 2131.0 1002.0 2131.1 989.1 2131.1 991.0 2131.2 1039.2 2131.2 981.6 2131.3 996.4 2131.4 1001.9 2131.4 1074.8 2131.5 1018.6 2131.5 1012.2 2131.6 1019.1 2131.7 1012.0 2131.7 1090.3 2131.8 984.6 2131.8 982.1 2131.9 1115.7 2132.0 1119.4 2132.0 1035.1 2132.1 984.1 2132.2 1015.1 2132.2 1066.3 2132.3 975.1 2132.3 951.8 2132.4 1219.8 2132.5 1020.7 2132.5 1004.1 2132.6 972.7 2132.6 1017.0 2132.7 1009.1 2132.8 1026.7 2132.8 1085.8 2132.9 965.4 2132.9 981.0 2133.0 996.8 2133.1 983.5 2133.1 1083.8 2133.2 1005.6 2133.2 1031.4 2133.3 1069.6 2133.4 1021.5 2133.4 998.9 2133.5 1053.4 2133.5 1100.7 2133.6 1010.2 2133.7 1018.9 2133.7 1062.6 2133.8 1127.1 2133.8 1097.7 2133.9 1018.4 2134.0 1086.2 2134.0 983.8 2134.1 1013.9 2134.1 1061.8 2134.2 1174.1 2134.3 1086.4 2134.3 973.1 2134.4 956.3 2134.4 1017.1 2134.5 1003.5 2134.5 1051.5 2134.6 959.3 2134.7 1019.4 2134.7 1044.5 2134.8 984.4 2134.8 997.8 2134.9 981.7 2135.0 1118.3 2135.0 1264.2 2135.1 1009.7 2135.1 964.2 2135.2 988.5 2135.3 1045.0 2135.3 1078.6 2135.4 983.6 2135.4 1077.4 2135.5 1062.7 2135.6 1016.7 2135.6 1020.7 2135.7 1119.5 2135.7 1010.0 2135.8 980.8 2135.9 1082.2 2135.9 1008.2 2136.0 1039.6 2136.0 1034.8 2136.1 1000.4 2136.2 998.2 2136.2 976.8 2136.3 986.9 2136.3 1001.6 2136.4 996.1 2136.4 1024.8 2136.5 1071.6 2136.6 1049.2 2136.6 987.2 2136.7 1007.3 2136.7 1062.3 2136.8 1000.1 2136.9 1018.8 2136.9 1043.3 2137.0 1168.4 2137.0 1014.6 2137.1 1078.3 2137.2 995.2 2137.2 1006.0 2137.3 1041.8 2137.3 1024.1 2137.4 1007.7 2137.4 1073.3 2137.5 1060.7 2137.6 1041.7 2137.6 1004.4 2137.7 1009.3 2137.7 1016.5 2137.8 1028.1 2137.9 1247.2 2137.9 1022.1 2138.0 1039.2 2138.0 1122.3 2138.1 1004.9 2138.2 974.5 2138.2 1044.1 2138.3 992.6 2138.3 1036.1 2138.4 968.1 2138.4 1012.8 2138.5 964.5 2138.6 1012.6 2138.6 1046.0 2138.7 1004.2 2138.7 1031.5 2138.8 1027.8 2138.9 1022.1 2138.9 1213.6 2139.0 1152.2 2139.0 998.3 2139.1 979.0 2139.1 1017.6 2139.2 946.2 2139.3 1067.2 2139.3 1011.4 2139.4 1053.8 2139.4 1040.8 2139.5 1061.8 2139.6 1139.9 2139.6 1005.1 2139.7 1138.0 2139.7 1007.3 2139.8 1036.1 2139.8 1044.4 2139.9 967.5 2140.0 1090.4 2140.0 1094.2 2140.1 1019.6 2140.1 974.1 2140.2 1046.9 2140.3 1169.7 2140.3 1022.0 2140.4 1093.4 2140.4 1007.1 2140.5 1041.9 2140.5 1001.3 2140.6 1080.2 2140.7 1005.0 2140.7 1173.6 2140.8 995.3 2140.8 1012.8 2140.9 994.1 2140.9 1006.1 2141.0 958.5 2141.1 988.2 2141.1 981.0 2141.2 1037.7 2141.2 1101.2 2141.3 1091.8 2141.4 1030.0 2141.4 1040.8 2141.5 1096.4 2141.5 1011.9 2141.6 1036.5 2141.6 1013.3 2141.7 1039.5 2141.8 1047.4 2141.8 1060.9 2141.9 1077.2 2141.9 1056.1 2142.0 1076.7 2142.0 973.4 2142.1 1012.6 2142.2 985.4 2142.2 1023.6 2142.3 1160.5 2142.3 985.2 2142.4 965.6 2142.4 999.7 2142.5 995.2 2142.6 1018.6 2142.6 1010.6 2142.7 958.1 2142.7 1022.0 2142.8 976.0 2142.8 996.9 2142.9 981.3 2143.0 1025.6 2143.0 969.2 2143.1 1110.0 2143.1 1009.3 2143.2 1006.8 2143.3 1059.2 2143.3 1017.4 2143.4 987.0 2143.4 1020.8 2143.5 1038.1 2143.5 1052.6 2143.6 994.1 2143.7 973.6 2143.7 995.8 2143.8 1023.7 2143.8 1037.2 2143.9 1039.9 2143.9 1004.7 2144.0 1023.2 2144.0 968.9 2144.1 1023.4 2144.2 955.8 2144.2 1109.2 2144.3 1193.8 2144.3 1040.6 2144.4 978.1 2144.4 1049.9 2144.5 976.1 2144.6 1033.3 2144.6 1014.5 2144.7 957.6 2144.7 975.7 2144.8 1155.4 2144.8 1169.7 2144.9 1034.0 2145.0 1077.0 2145.0 967.4 2145.1 1000.4 2145.1 1046.2 2145.2 1042.5 2145.2 1025.8 2145.3 1034.8 2145.4 1013.5 2145.4 1059.5 2145.5 1066.1 2145.5 1090.5 2145.6 985.7 2145.6 995.3 2145.7 1064.0 2145.8 1016.3 2145.8 991.8 2145.9 1029.9 2145.9 1041.0 2146.0 1149.3 2146.0 1041.2 2146.1 993.9 2146.1 992.9 2146.2 1033.8 2146.3 1000.6 2146.3 971.6 2146.4 1066.6 2146.4 1038.3 2146.5 1026.6 2146.5 1078.0 2146.6 997.0 2146.7 1081.5 2146.7 1071.4 2146.8 1045.4 2146.8 1079.2 2146.9 953.7 2146.9 1121.0 2147.0 1020.1 2147.0 1021.0 2147.1 1094.1 2147.2 1030.9 2147.2 1018.2 2147.3 1029.0 2147.3 1019.1 2147.4 1154.9 2147.4 1049.2 2147.5 1065.1 2147.6 1072.2 2147.6 1131.0 2147.7 1024.7 2147.7 997.7 2147.8 991.7 2147.8 1045.7 2147.9 1103.3 2147.9 1089.4 2148.0 981.3 2148.1 949.2 2148.1 1104.7 2148.2 969.9 2148.2 986.2 2148.3 1005.8 2148.3 1015.6 2148.4 1128.3 2148.5 1145.7 2148.5 1126.1 2148.6 1012.2 2148.6 1077.3 2148.7 990.5 2148.7 1132.1 2148.8 984.5 2148.8 1019.1 2148.9 1083.9 2149.0 1013.4 2149.0 1086.1 2149.1 1000.6 2149.1 1303.0 2149.2 996.7 2149.2 1249.0 2149.3 1072.0 2149.3 951.8 2149.4 1196.2 2149.5 1098.3 2149.5 1000.3 2149.6 1044.4 2149.6 958.0 2149.7 1053.7 2149.7 1022.7 2149.8 1003.1 2149.8 1047.3 2149.9 994.5 2150.0 976.0 2150.0 975.2 2150.1 988.4 2150.1 1023.6 2150.2 1029.1 2150.2 1082.4 2150.3 1045.5 2150.3 1013.2 2150.4 1083.4 2150.5 1114.8 2150.5 1056.7 2150.6 1022.2 2150.6 934.0 2150.7 945.6 2150.7 988.4 2150.8 1089.5 2150.8 959.3 2150.9 1046.9 2150.9 973.5 2151.0 1067.0 2151.1 1021.2 2151.1 1053.0 2151.2 1052.6 2151.2 1050.3 2151.3 970.2 2151.3 984.0 2151.4 971.9 2151.4 971.0 2151.5 972.0 2151.6 1068.4 2151.6 1166.5 2151.7 1008.1 2151.7 975.5 2151.8 1028.0 2151.8 1045.9 2151.9 1019.0 2151.9 1037.5 2152.0 1033.3 2152.1 1071.4 2152.1 1179.3 2152.2 982.2 2152.2 1076.3 2152.3 1118.8 2152.3 1020.8 2152.4 1038.4 2152.4 1159.3 2152.5 996.3 2152.5 1004.7 2152.6 1045.4 2152.7 1062.5 2152.7 997.5 2152.8 994.2 2152.8 960.6 2152.9 977.1 2152.9 1117.6 2153.0 1095.8 2153.0 1088.8 2153.1 1063.2 2153.1 1026.4 2153.2 1024.4 2153.3 1000.4 2153.3 1049.0 2153.4 1095.3 2153.4 1027.6 2153.5 1011.2 2153.5 989.3 2153.6 1028.7 2153.6 1014.1 2153.7 995.4 2153.7 1026.1 2153.8 1014.2 2153.9 973.8 2153.9 1089.7 2154.0 1008.3 2154.0 1010.0 2154.1 978.4 2154.1 1184.4 2154.2 1002.9 2154.2 1117.5 2154.3 983.5 2154.3 996.6 2154.4 1004.5 2154.5 1087.9 2154.5 1029.6 2154.6 1056.6 2154.6 1003.7 2154.7 1021.5 2154.7 1031.6 2154.8 1011.3 2154.8 1014.7 2154.9 968.2 2154.9 972.5 2155.0 985.4 2155.0 1109.4 2155.1 1013.0 2155.2 973.9 2155.2 1081.7 2155.3 1049.7 2155.3 1008.4 2155.4 1003.3 2155.4 1031.2 2155.5 1026.5 2155.5 997.5 2155.6 1006.0 2155.6 1025.9 2155.7 1070.6 2155.8 1006.3 2155.8 1009.0 2155.9 1015.0 2155.9 1096.2 2156.0 949.6 2156.0 1026.2 2156.1 1049.4 2156.1 1041.6 2156.2 1077.8 2156.2 1085.5 2156.3 1044.3 2156.3 1009.9 2156.4 1051.0 2156.5 1059.5 2156.5 1033.6 2156.6 1023.0 2156.6 1004.6 2156.7 1133.5 2156.7 1078.8 2156.8 1107.0 2156.8 1018.3 2156.9 1029.4 2156.9 1067.0 2157.0 974.3 2157.0 974.3 2157.1 1049.4 2157.2 1064.5 2157.2 1011.6 2157.3 968.0 2157.3 1020.1 2157.4 1028.1 2157.4 1040.4 2157.5 1002.1 2157.5 994.2 2157.6 1022.0 2157.6 992.5 2157.7 1003.5 2157.7 1082.1 2157.8 1023.9 2157.8 1009.0 2157.9 1008.3 2158.0 1007.7 2158.0 1057.2 2158.1 1018.3 2158.1 995.7 2158.2 1249.0 2158.2 1024.8 2158.3 1025.7 2158.3 1022.8 2158.4 1028.5 2158.4 1025.0 2158.5 1000.9 2158.5 1033.2 2158.6 988.1 2158.6 1030.9 2158.7 991.9 2158.8 1013.8 2158.8 1065.0 2158.9 1078.5 2158.9 1004.2 2159.0 997.5 2159.0 1018.5 2159.1 1019.8 2159.1 982.3 2159.2 990.1 2159.2 1135.1 2159.3 981.5 2159.3 1200.7 2159.4 1030.3 2159.4 1027.9 2159.5 978.5 2159.5 1065.2 2159.6 976.7 2159.7 1063.5 2159.7 968.6 2159.8 1132.0 2159.8 1064.5 2159.9 981.2 2159.9 1036.3 2160.0 1111.9 2160.0 980.2 2160.1 1020.1 2160.1 1028.3 2160.2 1056.3 2160.2 1149.1 2160.3 991.8 2160.3 1020.7 2160.4 1147.6 2160.4 1017.8 2160.5 1007.8 2160.6 1075.5 2160.6 1038.9 2160.7 1116.4 2160.7 972.9 2160.8 1017.0 2160.8 1015.1 2160.9 1085.4 2160.9 1125.4 2161.0 1068.1 2161.0 1095.1 2161.1 1021.5 2161.1 1073.9 2161.2 994.4 2161.2 993.1 2161.3 1007.8 2161.3 1019.9 2161.4 927.0 2161.4 1027.5 2161.5 1002.7 2161.6 1007.9 2161.6 999.2 2161.7 961.5 2161.7 1171.8 2161.8 941.7 2161.8 1072.2 2161.9 1039.7 2161.9 1012.8 2162.0 1098.1 2162.0 1017.0 2162.1 986.8 2162.1 1094.4 2162.2 1002.0 2162.2 1072.4 2162.3 1019.7 2162.3 1037.8 2162.4 950.6 2162.4 973.5 2162.5 1028.6 2162.6 1249.0 2162.6 1059.2 2162.7 1105.0 2162.7 953.2 2162.8 1000.3 2162.8 1073.6 2162.9 1068.9 2162.9 1050.4 2163.0 1126.7 2163.0 969.8 2163.1 988.6 2163.1 985.6 2163.2 1039.5 2163.2 1101.9 2163.3 1011.0 2163.3 1088.3 2163.4 1045.2 2163.4 1053.2 2163.5 1072.6 2163.5 1094.9 2163.6 1023.1 2163.6 976.7 2163.7 1060.3 2163.7 1010.2 2163.8 1078.3 2163.9 1029.2 2163.9 1053.3 2164.0 988.0 2164.0 1062.7 2164.1 1159.1 2164.1 992.4 2164.2 1061.9 2164.2 1020.7 2164.3 1100.3 2164.3 1019.0 2164.4 1052.6 2164.4 1064.5 2164.5 979.8 2164.5 1223.7 2164.6 1062.8 2164.6 983.0 2164.7 998.7 2164.7 983.1 2164.8 966.9 2164.8 1064.2 2164.9 981.9 2164.9 1093.9 2165.0 1059.9 2165.0 1040.7 2165.1 1030.9 2165.1 953.6 2165.2 1071.3 2165.3 1087.5 2165.3 1023.2 2165.4 1094.2 2165.4 981.6 2165.5 962.9 2165.5 1057.4 2165.6 1110.6 2165.6 1029.1 2165.7 1160.7 2165.7 1005.7 2165.8 1135.0 2165.8 1066.2 2165.9 985.0 2165.9 1002.7 2166.0 981.7 2166.0 1088.0 2166.1 1002.9 2166.1 1008.4 2166.2 1041.2 2166.2 1015.1 2166.3 1042.2 2166.3 1072.4 2166.4 1362.0 2166.4 952.5 2166.5 1032.6 2166.5 1002.1 2166.6 1051.4 2166.6 977.2 2166.7 993.5 2166.7 1054.6 2166.8 967.8 2166.8 1027.3 2166.9 1066.7 2166.9 987.7 2167.0 1082.1 2167.1 986.8 2167.1 993.9 2167.2 1162.3 2167.2 980.8 2167.3 1031.2 2167.3 1021.8 2167.4 1015.2 2167.4 978.2 2167.5 978.0 2167.5 1048.2 2167.6 1092.2 2167.6 973.8 2167.7 1041.8 2167.7 999.7 2167.8 1013.7 2167.8 1249.0 2167.9 985.6 2167.9 1006.1 2168.0 1032.4 2168.0 1063.9 2168.1 990.4 2168.1 999.3 2168.2 1041.7 2168.2 1030.7 2168.3 1060.9 2168.3 1018.7 2168.4 1021.2 2168.4 1046.6 2168.5 1027.4 2168.5 1019.5 2168.6 961.3 2168.6 1040.3 2168.7 1102.3 2168.7 1001.2 2168.8 966.6 2168.8 1122.5 2168.9 1015.4 2168.9 1055.0 2169.0 1094.1 2169.0 990.9 2169.1 1131.1 2169.1 1019.0 2169.2 1008.4 2169.2 983.6 2169.3 1015.0 2169.3 1050.5 2169.4 1062.3 2169.4 1085.0 2169.5 1092.4 2169.5 972.7 2169.6 1030.3 2169.6 1181.8 2169.7 1018.8 2169.7 1045.9 2169.8 991.9 2169.8 1040.2 2169.9 1013.2 2169.9 1022.9 2170.0 996.1 2170.0 1101.5 2170.1 1014.2 2170.2 1107.7 2170.2 989.9 2170.3 963.2 2170.3 1061.2 2170.4 993.0 2170.4 1005.2 2170.5 964.5 2170.5 1227.5 2170.6 1031.6 2170.6 992.3 2170.7 1086.9 2170.7 1040.2 2170.8 1050.5 2170.8 1111.8 2170.9 983.1 2170.9 1019.9 2171.0 1017.3 2171.0 1082.4 2171.1 1020.4 2171.1 1149.1 2171.2 964.3 2171.2 1015.3 2171.3 949.7 2171.3 983.2 2171.4 1002.7 2171.4 979.4 2171.5 1008.9 2171.5 1027.0 2171.6 989.2 2171.6 1130.1 2171.7 1119.1 2171.7 1249.0 2171.8 956.1 2171.8 975.9 2171.9 1065.7 2171.9 983.2 2172.0 967.2 2172.0 1022.2 2172.1 1065.3 2172.1 1135.3 2172.2 1003.2 2172.2 1007.2 2172.3 1013.7 2172.3 1034.1 2172.4 1184.6 2172.4 1076.0 2172.5 1044.4 2172.5 1067.9 2172.6 1023.5 2172.6 1057.8 2172.7 1079.5 2172.7 971.2 2172.8 998.4 2172.8 991.5 2172.9 968.6 2172.9 1045.7 2173.0 1067.1 2173.0 1005.2 2173.1 1045.0 2173.1 1109.4 2173.2 1017.8 2173.2 1060.4 2173.3 1034.5 2173.3 988.5 2173.4 1041.4 2173.4 997.2 2173.5 1026.1 2173.5 1008.8 2173.6 1047.7 2173.6 1048.5 2173.7 1005.5 2173.7 1098.6 2173.8 989.4 2173.8 980.6 2173.9 1097.7 2173.9 1062.5 2174.0 1000.4 2174.0 1122.5 2174.0 1011.1 2174.1 969.4 2174.1 982.8 2174.2 991.7 2174.2 1110.7 2174.3 970.3 2174.3 1084.9 2174.4 1032.9 2174.4 1055.8 2174.5 1011.7 2174.5 1094.5 2174.6 1010.1 2174.6 1064.2 2174.7 1132.5 2174.7 940.1 2174.8 1069.6 2174.8 1032.2 2174.9 1019.4 2174.9 1037.4 2175.0 1020.9 2175.0 1066.1 2175.1 991.9 2175.1 1054.1 2175.2 1152.0 2175.2 1101.0 2175.3 1032.7 2175.3 975.7 2175.4 1087.5 2175.4 1069.9 2175.5 1022.8 2175.5 934.0 2175.6 1240.2 2175.6 972.0 2175.7 1015.6 2175.7 1058.9 2175.8 1015.5 2175.8 1021.1 2175.9 1031.1 2175.9 1049.2 2176.0 1069.3 2176.0 982.9 2176.1 981.0 2176.1 1047.3 2176.2 1072.0 2176.2 982.7 2176.3 993.3 2176.3 1072.3 2176.4 986.4 2176.4 1054.9 2176.5 1086.9 2176.5 969.9 2176.6 1068.7 2176.6 1000.5 2176.7 1038.0 2176.7 1022.1 2176.8 1025.0 2176.8 1027.9 2176.9 1007.2 2176.9 1081.0 2177.0 994.7 2177.0 988.9 2177.0 1087.1 2177.1 1216.9 2177.1 1147.2 2177.2 1014.3 2177.2 1062.5 2177.3 1059.7 2177.3 1006.4 2177.4 1003.2 2177.4 1106.9 2177.5 998.4 2177.5 1039.3 2177.6 1025.2 2177.6 995.7 2177.7 1026.9 2177.7 981.3 2177.8 1021.0 2177.8 983.4 2177.9 951.2 2177.9 1097.5 2178.0 1026.7 2178.0 983.3 2178.1 1116.3 2178.1 1040.0 2178.2 1034.2 2178.2 1038.4 2178.3 993.8 2178.3 1037.7 2178.4 946.9 2178.4 1043.9 2178.5 1045.5 2178.5 1030.6 2178.6 983.9 2178.6 1154.0 2178.7 1045.8 2178.7 983.0 2178.8 1058.0 2178.8 1074.0 2178.8 955.8 2178.9 1002.1 2178.9 1045.3 2179.0 945.5 2179.0 1000.0 2179.1 1028.8 2179.1 934.0 2179.2 1006.5 2179.2 1017.7 2179.3 1080.4 2179.3 1047.8 2179.4 1168.3 2179.4 984.3 2179.5 1037.3 2179.5 1027.0 2179.6 1053.1 2179.6 1066.6 2179.7 995.0 2179.7 1034.4 2179.8 976.0 2179.8 1005.7 2179.9 994.3 2179.9 988.4 2180.0 1060.1 2180.0 1092.2 2180.1 1037.6 2180.1 1017.4 2180.2 1015.1 2180.2 1002.3 2180.2 1049.9 2180.3 1119.8 2180.3 1071.2 2180.4 987.5 2180.4 981.3 2180.5 1058.5 2180.5 974.0 2180.6 994.5 2180.6 1026.5 2180.7 993.7 2180.7 1004.5 2180.8 1053.8 2180.8 996.2 2180.9 995.8 2180.9 1001.4 2181.0 1024.8 2181.0 1016.6 2181.1 1115.3 2181.1 1071.2 2181.2 1125.0 2181.2 1010.8 2181.3 1048.8 2181.3 995.9 2181.4 1078.8 2181.4 1058.4 2181.4 1160.3 2181.5 994.5 2181.5 1073.9 2181.6 978.8 2181.6 1022.8 2181.7 1127.8 2181.7 1027.1 2181.8 995.3 2181.8 1012.1 2181.9 961.9 2181.9 1018.6 2182.0 1067.0 2182.0 968.7 2182.1 1100.6 2182.1 1045.0 2182.2 995.6 2182.2 987.3 2182.3 1001.4 2182.3 1006.8 2182.4 1006.1 2182.4 1063.4 2182.5 1025.4 2182.5 1020.7 2182.5 952.4 2182.6 976.0 2182.6 1043.3 2182.7 1024.9 2182.7 1061.0 2182.8 1021.4 2182.8 965.1 2182.9 985.5 2182.9 1010.9 2183.0 1067.6 2183.0 1003.0 2183.1 1032.7 2183.1 1012.7 2183.2 1026.7 2183.2 995.4 2183.3 1101.7 2183.3 1112.5 2183.4 1094.9 2183.4 1008.8 2183.4 1050.1 2183.5 1026.4 2183.5 1133.6 2183.6 1044.2 2183.6 980.1 2183.7 952.9 2183.7 1053.2 2183.8 979.1 2183.8 1016.4 2183.9 1213.2 2183.9 1031.3 2184.0 949.0 2184.0 1134.3 2184.1 1001.7 2184.1 1014.5 2184.2 1132.0 2184.2 995.1 2184.3 1004.6 2184.3 1043.7 2184.3 1088.4 2184.4 994.0 2184.4 1020.1 2184.5 1030.9 2184.5 1012.6 2184.6 1015.2 2184.6 1042.6 2184.7 1011.6 2184.7 1124.6 2184.8 1019.9 2184.8 974.1 2184.9 1053.6 2184.9 1090.6 2185.0 1061.8 2185.0 927.0 2185.1 1080.0 2185.1 1021.7 2185.1 994.9 2185.2 1063.1 2185.2 1068.8 2185.3 980.2 2185.3 968.6 2185.4 974.1 2185.4 1145.8 2185.5 952.1 2185.5 957.4 2185.6 986.4 2185.6 1049.5 2185.7 995.3 2185.7 1002.2 2185.8 1073.7 2185.8 986.4 2185.9 945.6 2185.9 1003.5 2185.9 1042.1 2186.0 1079.4 2186.0 1099.1 2186.1 969.8 2186.1 1019.9 2186.2 989.1 2186.2 1096.9 2186.3 951.1 2186.3 1158.4 2186.4 995.7 2186.4 1030.0 2186.5 1127.0 2186.5 1036.1 2186.6 985.3 2186.6 1055.6 2186.6 1189.7 2186.7 975.1 2186.7 1088.4 2186.8 1249.0 2186.8 995.8 2186.9 1085.0 2186.9 1018.4 2187.0 1014.2 2187.0 1028.1 2187.1 1056.2 2187.1 1028.3 2187.2 1038.1 2187.2 998.1 2187.3 1196.8 2187.3 967.9 2187.3 1079.2 2187.4 1119.9 2187.4 1061.1 2187.5 1012.0 2187.5 980.7 2187.6 1025.4 2187.6 1029.5 2187.7 1038.5 2187.7 1001.1 2187.8 1048.8 2187.8 985.2 2187.9 1031.7 2187.9 971.4 2188.0 1105.8 2188.0 1162.1 2188.0 996.9 2188.1 1043.3 2188.1 977.7 2188.2 1099.4 2188.2 1099.4 2188.3 993.5 2188.3 1093.8 2188.4 1034.1 2188.4 1005.5 2188.5 1058.4 2188.5 983.4 2188.6 1004.1 2188.6 996.1 2188.6 987.7 2188.7 967.5 2188.7 976.4 2188.8 934.0 2188.8 1010.5 2188.9 1007.5 2188.9 970.8 2189.0 1025.2 2189.0 999.7 2189.1 980.0 2189.1 1007.4 2189.2 1093.8 2189.2 1057.4 2189.2 1031.9 2189.3 963.1 2189.3 1076.6 2189.4 1126.9 2189.4 1042.4 2189.5 1037.7 2189.5 1026.2 2189.6 1018.1 2189.6 974.2 2189.7 1080.8 2189.7 1022.4 2189.8 1013.6 2189.8 1099.2 2189.8 989.0 2189.9 1123.2 2189.9 999.0 2190.0 957.3 2190.0 1088.5 2190.1 1061.3 2190.1 991.4 2190.2 997.8 2190.2 1010.1 2190.3 959.1 2190.3 1045.1 2190.4 1035.9 2190.4 1255.0 2190.4 1006.1 2190.5 1023.8 2190.5 988.0 2190.6 985.8 2190.6 987.7 2190.7 1069.7 2190.7 1020.2 2190.8 1009.5 2190.8 993.7 2190.9 1007.4 2190.9 1103.9 2190.9 980.7 2191.0 1042.9 2191.0 1021.4 2191.1 1087.9 2191.1 1001.4 2191.2 1049.4 2191.2 1078.8 2191.3 1007.8 2191.3 983.8 2191.4 974.7 2191.4 1049.6 2191.4 997.5 2191.5 958.1 2191.5 1149.6 2191.6 1229.4 2191.6 1026.4 2191.7 1065.7 2191.7 1066.2 2191.8 1187.2 2191.8 964.7 2191.9 1103.4 2191.9 1062.2 2192.0 989.5 2192.0 1022.7 2192.0 1022.5 2192.1 1093.6 2192.1 1114.2 2192.2 1024.8 2192.2 1111.5 2192.3 1002.4 2192.3 995.1 2192.4 1082.2 2192.4 1084.7 2192.5 1249.0 2192.5 1065.5 2192.5 1018.5 2192.6 950.9 2192.6 941.2 2192.7 1020.2 2192.7 962.6 2192.8 980.1 2192.8 1179.5 2192.9 1006.0 2192.9 979.1 2193.0 1131.8 2193.0 1100.2 2193.0 952.0 2193.1 1012.3 2193.1 1030.2 2193.2 1006.5 2193.2 968.3 2193.3 1098.8 2193.3 1022.3 2193.4 1080.0 2193.4 1031.9 2193.4 1084.6 2193.5 1048.9 2193.5 938.1 2193.6 999.3 2193.6 1030.3 2193.7 996.9 2193.7 1081.6 2193.8 959.9 2193.8 1025.3 2193.9 1063.6 2193.9 990.8 2193.9 988.8 2194.0 1052.2 2194.0 980.0 2194.1 987.5 2194.1 981.8 2194.2 1046.5 2194.2 995.1 2194.3 1051.2 2194.3 1002.8 2194.4 1086.1 2194.4 998.7 2194.4 1038.0 2194.5 1024.1 2194.5 1021.8 2194.6 1072.0 2194.6 1049.1 2194.7 992.4 2194.7 1006.0 2194.8 948.8 2194.8 1034.0 2194.8 1039.8 2194.9 981.4 2194.9 1124.7 2195.0 1077.6 2195.0 1001.0 2195.1 1043.4 2195.1 997.0 2195.2 992.4 2195.2 995.7 2195.3 1227.0 2195.3 986.6 2195.3 1002.0 2195.4 994.9 2195.4 1020.3 2195.5 1013.3 2195.5 1022.4 2195.6 1004.7 2195.6 969.7 2195.7 1063.1 2195.7 1131.7 2195.7 1046.9 2195.8 1025.5 2195.8 1067.2 2195.9 1011.8 2195.9 1032.0 2196.0 1051.2 2196.0 1084.4 2196.1 1116.3 2196.1 935.6 2196.1 990.5 2196.2 997.6 2196.2 987.1 2196.3 1015.5 2196.3 987.8 2196.4 1030.2 2196.4 1016.7 2196.5 977.6 2196.5 1024.6 2196.5 968.0 2196.6 1009.9 2196.6 1012.4 2196.7 1064.2 2196.7 1014.4 2196.8 1061.4 2196.8 973.7 2196.9 999.2 2196.9 1017.2 2196.9 965.3 2197.0 1061.8 2197.0 1123.0 2197.1 1023.4 2197.1 979.7 2197.2 973.3 2197.2 1026.3 2197.3 1049.7 2197.3 988.1 2197.3 1012.2 2197.4 1097.4 2197.4 1026.9 2197.5 1004.6 2197.5 1029.3 2197.6 999.6 2197.6 1013.9 2197.7 988.3 2197.7 1155.7 2197.7 1039.5 2197.8 998.3 2197.8 999.6 2197.9 1035.7 2197.9 1106.8 2198.0 1025.7 2198.0 981.5 2198.1 1002.0 2198.1 1115.0 2198.1 1006.0 2198.2 1088.2 2198.2 951.6 2198.3 957.0 2198.3 1045.5 2198.4 980.3 2198.4 1010.0 2198.5 1068.8 2198.5 1168.6 2198.5 965.1 2198.6 1070.1 2198.6 1079.2 2198.7 1216.9 2198.7 1028.4 2198.8 1147.4 2198.8 946.3 2198.9 984.0 2198.9 975.5 2198.9 1012.3 2199.0 1029.8 2199.0 1022.4 2199.1 1083.0 2199.1 1021.9 2199.2 1048.3 2199.2 978.0 2199.2 1005.5 2199.3 975.6 2199.3 1144.9 2199.4 969.0 2199.4 1018.9 2199.5 1088.1 2199.5 1021.4 2199.6 956.9 2199.6 1002.8 2199.6 1047.8 2199.7 1014.1 2199.7 1008.5 2199.8 1089.7 2199.8 1020.1 2199.9 958.1 2199.9 1047.7 2200.0 1003.3 2200.0 1018.7 2200.0 1025.5 2200.1 1137.7 2200.1 980.5 2200.2 1061.4 2200.2 988.2 2200.3 999.5 2200.3 1024.3 2200.3 1033.7 2200.4 1010.4 2200.4 986.2 2200.5 975.9 2200.5 934.3 2200.6 995.0 2200.6 1041.9 2200.7 989.8 2200.7 1052.8 2200.7 1015.5 2200.8 1033.9 2200.8 966.0 2200.9 1041.2 2200.9 1017.6 2201.0 1132.3 2201.0 1001.9 2201.0 1061.0 2201.1 1028.8 2201.1 982.5 2201.2 1024.9 2201.2 1028.2 2201.3 1098.7 2201.3 1014.1 2201.4 1029.2 2201.4 1026.7 2201.4 965.9 2201.5 1012.2 2201.5 967.4 2201.6 1057.5 2201.6 1030.4 2201.7 1079.2 2201.7 999.1 2201.7 979.9 2201.8 1017.1 2201.8 1015.5 2201.9 1054.3 2201.9 1129.6 2202.0 1096.2 2202.0 1004.9 2202.0 1066.1 2202.1 965.2 2202.1 1073.6 2202.2 994.4 2202.2 982.1 2202.3 1046.8 2202.3 991.3 2202.4 1059.6 2202.4 961.2 2202.4 1020.2 2202.5 1006.6 2202.5 1088.1 2202.6 990.3 2202.6 1009.3 2202.7 992.9 2202.7 1008.1 2202.7 993.4 2202.8 1085.9 2202.8 1037.9 2202.9 981.2 2202.9 1017.7 2203.0 996.5 2203.0 982.8 2203.0 1110.4 2203.1 1046.3 2203.1 1028.6 2203.2 1071.3 2203.2 994.6 2203.3 1035.8 2203.3 1022.0 2203.3 1112.2 2203.4 993.8 2203.4 962.1 2203.5 994.9 2203.5 1017.1 2203.6 963.8 2203.6 1214.3 2203.6 1002.2 2203.7 972.6 2203.7 996.1 2203.8 988.1 2203.8 1122.2 2203.9 1012.0 2203.9 997.4 2204.0 1113.2 2204.0 1077.1 2204.0 1013.9 2204.1 1008.0 2204.1 1115.7 2204.2 1049.4 2204.2 972.4 2204.3 1025.2 2204.3 1112.7 2204.3 951.9 2204.4 1021.8 2204.4 1046.9 2204.5 1074.1 2204.5 1029.6 2204.6 962.5 2204.6 992.9 2204.6 944.5 2204.7 981.8 2204.7 972.0 2204.8 1103.9 2204.8 1024.3 2204.9 1013.9 2204.9 1023.5 2204.9 1092.7 2205.0 943.3 2205.0 998.2 2205.1 991.1 2205.1 1008.4 2205.2 1029.8 2205.2 1260.5 2205.2 977.5 2205.3 1012.7 2205.3 1017.3 2205.4 1165.7 2205.4 998.1 2205.5 959.5 2205.5 980.7 2205.5 1056.8 2205.6 1038.4 2205.6 996.0 2205.7 1023.1 2205.7 1001.6 2205.8 979.4 2205.8 1015.4 2205.8 1081.6 2205.9 1013.6 2205.9 1041.7 2206.0 970.9 2206.0 1078.1 2206.1 965.0 2206.1 1129.7 2206.1 1106.1 2206.2 990.5 2206.2 1009.1 2206.3 1061.2 2206.3 1057.0 2206.3 1025.7 2206.4 964.9 2206.4 1035.0 2206.5 1007.3 2206.5 1002.0 2206.6 1035.3 2206.6 965.9 2206.6 969.3 2206.7 1041.3 2206.7 1178.0 2206.8 1093.3 2206.8 1054.8 2206.9 1157.0 2206.9 1070.7 2206.9 1118.3 2207.0 1012.5 2207.0 1087.9 2207.1 1033.7 2207.1 1116.0 2207.2 981.9 2207.2 1129.0 2207.2 1082.7 2207.3 1010.0 2207.3 1017.8 2207.4 978.1 2207.4 1123.0 2207.5 1039.7 2207.5 1085.8 2207.5 1004.5 2207.6 1135.6 2207.6 1012.5 2207.7 1019.7 2207.7 1067.3 2207.7 1019.8 2207.8 978.8 2207.8 972.6 2207.9 1038.8 2207.9 1045.7 2208.0 970.2 2208.0 1060.0 2208.0 982.4 2208.1 1000.6 2208.1 1055.7 2208.2 1041.1 2208.2 1040.5 2208.3 1043.7 2208.3 1021.1 2208.3 1197.5 2208.4 967.1 2208.4 1027.1 2208.5 1018.3 2208.5 1016.7 2208.6 1046.5 2208.6 1069.8 2208.6 1054.5 2208.7 995.5 2208.7 1000.9 2208.8 1022.7 2208.8 1006.4 2208.8 1011.9 2208.9 1032.4 2208.9 1125.2 2209.0 1082.9 2209.0 1043.3 2209.1 1073.8 2209.1 1050.5 2209.1 1040.0 2209.2 972.7 2209.2 1098.9 2209.3 1039.8 2209.3 1004.1 2209.4 1120.3 2209.4 1028.9 2209.4 996.1 2209.5 1055.4 2209.5 1248.7 2209.6 1092.3 2209.6 1142.4 2209.6 1009.9 2209.7 1032.4 2209.7 1024.5 2209.8 1009.2 2209.8 954.0 2209.9 1003.0 2209.9 1014.8 2209.9 999.3 2210.0 1012.4 2210.0 1085.0 2210.1 1074.2 2210.1 1011.7 2210.1 1016.9 2210.2 1071.2 2210.2 1070.4 2210.3 963.0 2210.3 1044.9 2210.4 1065.2 2210.4 978.4 2210.4 1037.8 2210.5 1054.6 2210.5 1015.3 2210.6 1025.9 2210.6 1013.4 2210.6 962.6 2210.7 1029.7 2210.7 960.5 2210.8 1003.4 2210.8 1034.4 2210.9 1066.9 2210.9 1035.6 2210.9 992.3 2211.0 1072.9 2211.0 1061.2 2211.1 1001.9 2211.1 1248.7 2211.1 1001.2 2211.2 1054.9 2211.2 1022.3 2211.3 1014.6 2211.3 1011.6 2211.4 1079.1 2211.4 1102.1 2211.4 1119.7 2211.5 1005.8 2211.5 1003.2 2211.6 1059.9 2211.6 971.6 2211.6 1028.4 2211.7 1019.6 2211.7 1100.5 2211.8 1030.1 2211.8 999.3 2211.9 983.1 2211.9 982.5 2211.9 1020.4 2212.0 1111.9 2212.0 1085.9 2212.1 1035.7 2212.1 1045.0 2212.1 1004.1 2212.2 1070.0 2212.2 973.0 2212.3 1098.2 2212.3 1061.5 2212.4 1032.2 2212.4 1048.4 2212.4 1034.0 2212.5 1019.7 2212.5 1008.0 2212.6 1012.2 2212.6 1137.2 2212.6 993.6 2212.7 1052.0 2212.7 1035.3 2212.8 1023.3 2212.8 996.2 2212.8 1048.5 2212.9 1029.3 2212.9 1016.1 2213.0 1107.3 2213.0 1058.0 2213.1 1016.6 2213.1 1036.7 2213.1 1013.1 2213.2 1216.5 2213.2 1085.4 2213.3 978.0 2213.3 1017.3 2213.3 1072.3 2213.4 1053.0 2213.4 1046.4 2213.5 986.7 2213.5 1036.7 2213.5 1018.7 2213.6 1090.7 2213.6 1043.9 2213.7 992.7 2213.7 1301.0 2213.8 962.9 2213.8 1086.2 2213.8 1174.7 2213.9 1073.3 2213.9 1087.2 2214.0 1066.2 2214.0 985.3 2214.0 1011.1 2214.1 1003.6 2214.1 1012.0 2214.2 1101.9 2214.2 1024.9 2214.2 1093.5 2214.3 1066.6 2214.3 1089.3 2214.4 1108.2 2214.4 1048.6 2214.5 982.3 2214.5 1074.6 2214.5 993.2 2214.6 1047.7 2214.6 950.7 2214.7 1042.1 2214.7 1000.8 2214.7 1082.7 2214.8 1018.3 2214.8 1015.4 2214.9 1041.0 2214.9 963.8 2214.9 1080.6 2215.0 1039.4 2215.0 1000.9 2215.1 986.3 2215.1 1032.2 2215.1 998.7 2215.2 1164.8 2215.2 1054.9 2215.3 1033.4 2215.3 1022.8 2215.4 1104.5 2215.4 1044.8 2215.4 1013.9 2215.5 1059.5 2215.5 1028.0 2215.6 1028.1 2215.6 1088.2 2215.6 1002.2 2215.7 1102.4 2215.7 1073.4 2215.8 1038.5 2215.8 1008.0 2215.8 978.7 2215.9 1037.1 2215.9 1030.6 2216.0 1095.5 2216.0 1061.9 2216.0 1020.4 2216.1 986.2 2216.1 1040.8 2216.2 1070.2 2216.2 1122.0 2216.2 1004.4 2216.3 1092.3 2216.3 1011.0 2216.4 1092.6 2216.4 1212.2 2216.5 1049.9 2216.5 983.2 2216.5 990.5 2216.6 1043.4 2216.6 1074.9 2216.7 1064.5 2216.7 962.9 2216.7 1156.9 2216.8 978.6 2216.8 1035.6 2216.9 955.4 2216.9 1002.4 2216.9 1025.8 2217.0 1041.9 2217.0 989.8 2217.1 988.9 2217.1 1009.4 2217.1 1048.9 2217.2 1019.6 2217.2 1074.6 2217.3 1050.3 2217.3 965.1 2217.3 1053.4 2217.4 1041.6 2217.4 1003.0 2217.5 1017.7 2217.5 1112.3 2217.5 961.2 2217.6 989.4 2217.6 1010.6 2217.7 1010.4 2217.7 1105.4 2217.7 1170.5 2217.8 1067.1 2217.8 1032.1 2217.9 988.7 2217.9 1020.7 2218.0 1038.1 2218.0 1063.1 2218.0 1087.6 2218.1 1026.0 2218.1 1065.0 2218.2 1062.8 2218.2 1163.4 2218.2 1033.7 2218.3 1064.8 2218.3 1003.1 2218.4 1072.1 2218.4 970.4 2218.4 1040.7 2218.5 1099.2 2218.5 1158.5 2218.6 1049.6 2218.6 1007.2 2218.6 1086.6 2218.7 1009.0 2218.7 1008.2 2218.8 1018.4 2218.8 1150.3 2218.8 1048.1 2218.9 984.0 2218.9 1056.6 2219.0 1012.8 2219.0 1000.7 2219.0 1045.5 2219.1 1099.6 2219.1 993.0 2219.2 1019.0 2219.2 992.2 2219.2 1026.5 2219.3 1006.2 2219.3 1040.4 2219.4 1030.7 2219.4 1108.8 2219.4 970.7 2219.5 966.2 2219.5 1007.3 2219.6 998.4 2219.6 1033.2 2219.6 1075.0 2219.7 1046.5 2219.7 972.8 2219.8 1082.1 2219.8 1104.3 2219.8 1004.0 2219.9 967.3 2219.9 969.2 2220.0 1043.8 2220.0 1023.0 2220.0 973.3 2220.1 996.4 2220.1 1016.8 2220.2 999.0 2220.2 1018.6 2220.2 1078.7 2220.3 1011.0 2220.3 1039.0 2220.4 1081.8 2220.4 999.9 2220.4 974.0 2220.5 995.9 2220.5 1022.3 2220.6 993.7 2220.6 976.9 2220.6 989.3 2220.7 999.1 2220.7 1014.1 2220.8 997.1 2220.8 985.2 2220.8 1171.5 2220.9 1057.4 2220.9 992.5 2221.0 1009.7 2221.0 1095.2 2221.0 1063.8 2221.1 990.9 2221.1 1039.4 2221.2 1130.9 2221.2 1061.8 2221.2 1023.4 2221.3 1063.9 2221.3 1040.8 2221.4 1011.9 2221.4 992.4 2221.4 1030.3 2221.5 985.6 2221.5 1040.3 2221.5 1033.3 2221.6 1042.8 2221.6 989.1 2221.7 965.4 2221.7 1053.5 2221.7 1047.5 2221.8 1271.6 2221.8 970.3 2221.9 989.0 2221.9 996.5 2221.9 981.7 2222.0 1068.3 2222.0 970.6 2222.1 1009.8 2222.1 1083.5 2222.1 1051.3 2222.2 1007.1 2222.2 1050.3 2222.3 1017.0 2222.3 951.3 2222.3 987.7 2222.4 968.6 2222.4 991.9 2222.5 1011.0 2222.5 1044.0 2222.5 980.4 2222.6 1014.1 2222.6 1023.0 2222.7 1012.5 2222.7 1006.1 2222.7 999.4 2222.8 998.5 2222.8 983.9 2222.9 1019.5 2222.9 1107.7 2222.9 945.7 2223.0 1008.7 2223.0 1024.7 2223.1 1031.3 2223.1 958.1 2223.1 1021.9 2223.2 1084.0 2223.2 975.9 2223.2 1014.9 2223.3 1001.8 2223.3 1013.8 2223.4 1059.5 2223.4 1008.6 2223.4 992.6 2223.5 1162.3 2223.5 1053.1 2223.6 1016.4 2223.6 1039.6 2223.6 1111.5 2223.7 1074.0 2223.7 1045.4 2223.8 1098.5 2223.8 1136.7 2223.8 1095.6 2223.9 1078.5 2223.9 1007.2 2224.0 1025.9 2224.0 934.2 2224.0 1018.6 2224.1 1099.9 2224.1 1088.8 2224.1 1026.1 2224.2 986.7 2224.2 1018.5 2224.3 1123.6 2224.3 980.0 2224.3 1031.3 2224.4 986.7 2224.4 1130.6 2224.5 1056.1 2224.5 1003.1 2224.5 1044.7 2224.6 970.4 2224.6 998.7 2224.7 1032.6 2224.7 983.1 2224.7 956.0 2224.8 1062.2 2224.8 1033.3 2224.9 1015.5 2224.9 1057.5 2224.9 1010.0 2225.0 1003.0 2225.0 1019.6 2225.0 1048.1 2225.1 957.8 2225.1 1014.3 2225.2 956.1 2225.2 1058.4 2225.2 1220.1 2225.3 1020.0 2225.3 1000.9 2225.4 993.5 2225.4 1069.7 2225.4 1060.5 2225.5 1054.3 2225.5 1168.4 2225.6 985.8 2225.6 1002.1 2225.6 990.3 2225.7 1120.2 2225.7 1002.2 2225.7 981.6 2225.8 1248.2 2225.8 1022.9 2225.9 1070.9 2225.9 1019.6 2225.9 1059.5 2226.0 1111.1 2226.0 1039.9 2226.1 1008.8 2226.1 1023.0 2226.1 1094.8 2226.2 1035.5 2226.2 991.5 2226.3 1059.5 2226.3 1027.7 2226.3 966.9 2226.4 1060.9 2226.4 997.8 2226.4 1087.9 2226.5 1016.1 2226.5 1139.1 2226.6 969.7 2226.6 1034.6 2226.6 1090.4 2226.7 1073.4 2226.7 1150.5 2226.8 991.5 2226.8 1000.8 2226.8 964.3 2226.9 1028.8 2226.9 1030.8 2227.0 1056.7 2227.0 994.6 2227.0 1013.0 2227.1 1025.5 2227.1 1080.4 2227.1 1028.2 2227.2 958.5 2227.2 1025.1 2227.3 998.4 2227.3 1016.5 2227.3 1054.2 2227.4 1007.0 2227.4 1022.5 2227.5 996.9 2227.5 942.2 2227.5 964.7 2227.6 974.8 2227.6 1022.7 2227.6 990.9 2227.7 1016.1 2227.7 1018.0 2227.8 962.9 2227.8 1200.8 2227.8 1110.3 2227.9 1104.0 2227.9 1141.2 2228.0 1024.8 2228.0 1035.0 2228.0 1034.6 2228.1 1029.2 2228.1 1125.2 2228.1 1001.4 2228.2 1088.2 2228.2 1026.2 2228.3 1020.5 2228.3 1095.8 2228.3 1000.8 2228.4 1057.8 2228.4 995.4 2228.5 1053.3 2228.5 1014.1 2228.5 997.1 2228.6 1166.8 2228.6 1028.6 2228.6 1003.3 2228.7 1063.8 2228.7 1017.9 2228.8 1067.7 2228.8 1042.7 2228.8 1041.1 2228.9 1071.7 2228.9 990.6 2229.0 989.0 2229.0 989.7 2229.0 988.7 2229.1 1011.0 2229.1 1002.6 2229.1 1007.3 2229.2 1015.5 2229.2 1001.4 2229.3 1029.4 2229.3 982.3 2229.3 976.7 2229.4 1069.6 2229.4 1084.6 2229.4 1171.7 2229.5 976.2 2229.5 1016.1 2229.6 962.8 2229.6 1075.1 2229.6 1132.8 2229.7 1018.9 2229.7 1094.2 2229.8 944.9 2229.8 1020.9 2229.8 986.7 2229.9 965.4 2229.9 1011.2 2229.9 1025.5 2230.0 1007.2 2230.0 1142.4 2230.1 1026.0 2230.1 973.4 2230.1 1089.5 2230.2 1045.9 2230.2 1030.8 2230.3 1033.1 2230.3 1022.3 2230.3 1019.5 2230.4 983.7 2230.4 1072.3 2230.4 1024.4 2230.5 991.7 2230.5 1039.0 2230.6 987.4 2230.6 1214.4 2230.6 1016.9 2230.7 973.2 2230.7 1068.6 2230.7 958.2 2230.8 988.9 2230.8 994.2 2230.9 1048.7 2230.9 936.6 2230.9 1037.4 2231.0 977.2 2231.0 1080.1 2231.0 996.4 2231.1 990.3 2231.1 985.4 2231.2 997.1 2231.2 1079.6 2231.2 965.0 2231.3 1057.2 2231.3 1025.5 2231.4 1115.6 2231.4 972.3 2231.4 950.5 2231.5 1127.3 2231.5 960.1 2231.5 1091.0 2231.6 1001.7 2231.6 1098.4 2231.7 1022.3 2231.7 965.4 2231.7 982.3 2231.8 1057.5 2231.8 1037.1 2231.8 1047.9 2231.9 981.4 2231.9 1123.4 2232.0 1098.7 2232.0 982.7 2232.0 937.1 2232.1 999.9 2232.1 1066.1 2232.1 1051.1 2232.2 981.6 2232.2 1012.4 2232.3 973.0 2232.3 1020.5 2232.3 1039.7 2232.4 1110.0 2232.4 955.8 2232.4 973.5 2232.5 1055.1 2232.5 1056.1 2232.6 1021.1 2232.6 1037.3 2232.6 1051.3 2232.7 983.2 2232.7 1013.4 2232.7 994.8 2232.8 1105.5 2232.8 997.7 2232.9 994.4 2232.9 933.0 2232.9 978.7 2233.0 1002.4 2233.0 1006.0 2233.0 961.0 2233.1 1071.1 2233.1 991.3 2233.2 992.3 2233.2 1014.5 2233.2 1044.0 2233.3 1003.6 2233.3 972.5 2233.3 1008.3 2233.4 1043.3 2233.4 1055.1 2233.5 1037.6 2233.5 1076.2 2233.5 1004.1 2233.6 1092.0 2233.6 985.0 2233.6 1051.4 2233.7 938.9 2233.7 1110.1 2233.8 1046.7 2233.8 1080.7 2233.8 1016.2 2233.9 955.2 2233.9 1079.7 2233.9 1070.7 2234.0 1012.8 2234.0 1144.2 2234.1 1062.5 2234.1 1211.1 2234.1 1015.9 2234.2 986.8 2234.2 964.8 2234.2 1005.5 2234.3 1078.2 2234.3 1050.8 2234.4 974.5 2234.4 1010.6 2234.4 1128.4 2234.5 1060.0 2234.5 981.2 2234.5 1095.7 2234.6 1029.2 2234.6 1033.7 2234.7 1013.3 2234.7 947.9 2234.7 1248.0 2234.8 1136.7 2234.8 965.0 2234.8 1032.8 2234.9 998.7 2234.9 1036.0 2235.0 1186.7 2235.0 1034.2 2235.0 1004.2 2235.1 1076.4 2235.1 1037.3 2235.1 1020.1 2235.2 1022.9 2235.2 1119.1 2235.3 1042.9 2235.3 1068.6 2235.3 1137.3 2235.4 1108.6 2235.4 1027.4 2235.4 974.1 2235.5 1036.3 2235.5 1072.9 2235.6 1082.9 2235.6 1014.0 2235.6 1014.0 2235.7 989.0 2235.7 1099.3 2235.7 968.8 2235.8 1004.5 2235.8 937.6 2235.8 1120.3 2235.9 1110.0 2235.9 989.6 2236.0 950.4 2236.0 1020.9 2236.0 1075.7 2236.1 947.0 2236.1 946.3 2236.1 1055.2 2236.2 989.8 2236.2 1035.6 2236.3 1035.3 2236.3 1020.0 2236.3 1014.9 2236.4 991.7 2236.4 1021.4 2236.4 978.9 2236.5 982.9 2236.5 996.0 2236.6 1043.8 2236.6 1010.9 2236.6 1145.1 2236.7 1049.4 2236.7 1010.3 2236.7 1016.4 2236.8 1075.7 2236.8 982.7 2236.8 1072.7 2236.9 1108.2 2236.9 1009.3 2237.0 1004.1 2237.0 1148.5 2237.0 999.2 2237.1 1026.8 2237.1 979.2 2237.1 1011.5 2237.2 1083.8 2237.2 1004.1 2237.3 1119.4 2237.3 1046.7 2237.3 1006.2 2237.4 1057.0 2237.4 1023.6 2237.4 1026.2 2237.5 1028.3 2237.5 1090.4 2237.5 969.6 2237.6 1045.3 2237.6 1015.4 2237.7 1005.6 2237.7 1101.4 2237.7 1021.0 2237.8 1113.1 2237.8 1054.9 2237.8 1077.5 2237.9 1043.6 2237.9 993.9 2238.0 1092.3 2238.0 1113.2 2238.0 1029.7 2238.1 1001.6 2238.1 998.7 2238.1 993.2 2238.2 1106.4 2238.2 965.1 2238.2 1119.3 2238.3 1011.5 2238.3 1100.2 2238.4 1089.7 2238.4 1039.0 2238.4 1066.0 2238.5 1006.2 2238.5 1031.7 2238.5 1030.7 2238.6 1031.3 2238.6 1000.3 2238.6 1001.9 2238.7 917.0 2238.7 997.4 2238.8 1040.9 2238.8 983.6 2238.8 1009.6 2238.9 1023.3 2238.9 1030.4 2238.9 1086.4 2239.0 1045.9 2239.0 993.1 2239.1 1011.8 2239.1 986.0 2239.1 1048.1 2239.2 1026.6 2239.2 1063.9 2239.2 986.2 2239.3 1097.8 2239.3 1096.5 2239.3 1086.9 2239.4 1104.2 2239.4 942.1 2239.5 994.7 2239.5 1009.2 2239.5 988.0 2239.6 987.1 2239.6 1004.4 2239.6 1055.6 2239.7 1088.7 2239.7 1057.5 2239.7 1049.0 2239.8 1069.7 2239.8 1010.7 2239.9 969.9 2239.9 968.5 2239.9 1105.3 2240.0 1003.3 2240.0 1076.9 2240.0 932.8 2240.1 998.6 2240.1 1086.3 2240.1 1053.3 2240.2 1017.4 2240.2 999.5 2240.3 1058.2 2240.3 972.8 2240.3 982.5 2240.4 1026.0 2240.4 985.0 2240.4 1052.2 2240.5 1020.0 2240.5 1141.0 2240.5 999.0 2240.6 1093.0 2240.6 1018.2 2240.7 1107.3 2240.7 982.0 2240.7 1074.4 2240.8 1052.7 2240.8 1126.5 2240.8 1014.1 2240.9 1040.8 2240.9 971.9 2240.9 1204.0 2241.0 1010.6 2241.0 1025.1 2241.1 1022.1 2241.1 1016.2 2241.1 972.2 2241.2 987.8 2241.2 1021.4 2241.2 983.5 2241.3 1065.6 2241.3 1097.4 2241.3 1062.9 2241.4 1076.4 2241.4 975.1 2241.4 1002.2 2241.5 1034.2 2241.5 998.6 2241.6 1004.7 2241.6 960.7 2241.6 1173.9 2241.7 1025.0 2241.7 1024.6 2241.7 999.3 2241.8 1056.0 2241.8 943.2 2241.8 1013.1 2241.9 1003.7 2241.9 1019.1 2242.0 1058.3 2242.0 1089.1 2242.0 1004.3 2242.1 1002.6 2242.1 1062.9 2242.1 1013.9 2242.2 1057.9 2242.2 1002.7 2242.2 1010.0 2242.3 1004.6 2242.3 1040.0 2242.3 1030.5 2242.4 1018.2 2242.4 1087.9 2242.5 1004.7 2242.5 956.8 2242.5 1050.0 2242.6 948.6 2242.6 1063.1 2242.6 1011.5 2242.7 1074.5 2242.7 1049.7 2242.7 986.5 2242.8 976.1 2242.8 1007.0 2242.9 1045.7 2242.9 1104.5 2242.9 1057.9 2243.0 1012.1 2243.0 1036.3 2243.0 978.5 2243.1 1076.4 2243.1 1105.7 2243.1 983.4 2243.2 962.6 2243.2 1027.2 2243.2 1032.6 2243.3 1031.4 2243.3 1094.8 2243.4 1100.1 2243.4 1047.0 2243.4 1124.6 2243.5 997.3 2243.5 1005.1 2243.5 982.0 2243.6 977.0 2243.6 955.8 2243.6 1121.4 2243.7 1014.3 2243.7 1028.1 2243.7 996.4 2243.8 954.1 2243.8 1048.9 2243.9 1023.7 2243.9 1077.5 2243.9 941.9 2244.0 969.9 2244.0 1036.6 2244.0 1008.9 2244.1 1145.4 2244.1 962.4 2244.1 1096.7 2244.2 1096.8 2244.2 1008.8 2244.2 1056.0 2244.3 1006.6 2244.3 984.2 2244.4 1005.7 2244.4 982.3 2244.4 1053.1 2244.5 1004.2 2244.5 972.1 2244.5 1015.5 2244.6 1005.5 2244.6 1059.3 2244.6 975.0 2244.7 1062.6 2244.7 972.8 2244.7 1030.2 2244.8 977.8 2244.8 1141.3 2244.9 932.7 2244.9 961.3 2244.9 1020.8 2245.0 990.4 2245.0 976.0 2245.0 984.8 2245.1 997.1 2245.1 997.9 2245.1 1014.6 2245.2 1149.2 2245.2 982.8 2245.2 1180.8 2245.3 1015.8 2245.3 1085.3 2245.3 990.1 2245.4 1052.0 2245.4 1102.5 2245.5 1019.9 2245.5 985.2 2245.5 1070.4 2245.6 1123.2 2245.6 1029.9 2245.6 962.1 2245.7 1024.9 2245.7 958.9 2245.7 1210.0 2245.8 986.8 2245.8 1098.1 2245.8 981.3 2245.9 1071.6 2245.9 1065.3 2246.0 1034.7 2246.0 1024.0 2246.0 1020.8 2246.1 1014.5 2246.1 995.7 2246.1 1003.6 2246.2 983.2 2246.2 935.2 2246.2 1089.9 2246.3 1013.2 2246.3 990.8 2246.3 1020.5 2246.4 979.2 2246.4 1054.3 2246.4 1025.5 2246.5 1015.3 2246.5 1001.5 2246.6 1022.7 2246.6 1085.6 2246.6 968.6 2246.7 999.3 2246.7 1082.2 2246.7 1035.9 2246.8 996.7 2246.8 945.1 2246.8 1066.9 2246.9 1006.4 2246.9 1027.1 2246.9 1126.4 2247.0 1114.6 2247.0 999.4 2247.0 1040.5 2247.1 959.1 2247.1 993.2 2247.2 1120.5 2247.2 962.3 2247.2 1057.0 2247.3 966.6 2247.3 1003.9 2247.3 990.6 2247.4 1112.3 2247.4 1004.6 2247.4 1014.9 2247.5 1042.4 2247.5 970.5 2247.5 1024.4 2247.6 1049.0 2247.6 998.8 2247.6 1024.7 2247.7 1013.0 2247.7 1020.9 2247.7 1076.0 2247.8 1139.5 2247.8 1005.0 2247.9 1080.9 2247.9 1102.2 2247.9 998.4 2248.0 983.9 2248.0 1002.6 2248.0 954.5 2248.1 1239.6 2248.1 1042.1 2248.1 1088.8 2248.2 1042.9 2248.2 1038.5 2248.2 980.0 2248.3 1007.5 2248.3 959.4 2248.3 1065.6 2248.4 1052.5 2248.4 1015.1 2248.4 1061.0 2248.5 1041.8 2248.5 1070.7 2248.6 1119.5 2248.6 997.6 2248.6 1064.0 2248.7 1142.9 2248.7 997.9 2248.7 1052.7 2248.8 956.9 2248.8 1033.3 2248.8 1028.5 2248.9 1004.2 2248.9 974.5 2248.9 1088.5 2249.0 959.2 2249.0 995.5 2249.0 1085.3 2249.1 1151.8 2249.1 973.7 2249.1 1025.1 2249.2 933.6 2249.2 959.4 2249.3 1056.3 2249.3 996.0 2249.3 985.0 2249.4 962.6 2249.4 1009.8 2249.4 1015.3 2249.5 967.3 2249.5 958.7 2249.5 973.8 2249.6 1026.6 2249.6 1051.0 2249.6 982.6 2249.7 1054.8 2249.7 954.5 2249.7 957.0 2249.8 981.0 2249.8 1020.1 2249.8 1136.8 2249.9 1010.1 2249.9 1004.5 2249.9 1054.3 2250.0 995.1 2250.0 1007.0 2250.1 1002.2 2250.1 1017.6 2250.1 1012.6 2250.2 983.6 2250.2 1060.5 2250.2 1194.1 2250.3 1044.1 2250.3 1006.6 2250.3 991.1 2250.4 977.5 2250.4 971.9 2250.4 960.7 2250.5 984.7 2250.5 973.4 2250.5 1008.7 2250.6 1019.7 2250.6 963.1 2250.6 1012.7 2250.7 970.2 2250.7 1020.7 2250.7 1052.2 2250.8 1002.2 2250.8 979.5 2250.8 996.2 2250.9 977.8 2250.9 1019.1 2251.0 993.3 2251.0 1067.1 2251.0 964.8 2251.1 991.2 2251.1 993.2 2251.1 1012.8 2251.2 1009.2 2251.2 995.3 2251.2 1055.0 2251.3 972.9 2251.3 977.0 2251.3 943.5 2251.4 1005.5 2251.4 975.0 2251.4 1010.2 2251.5 980.0 2251.5 1026.3 2251.5 970.4 2251.6 983.2 2251.6 1015.8 2251.6 1007.2 2251.7 1154.8 2251.7 1009.4 2251.7 1069.8 2251.8 984.9 2251.8 979.3 2251.8 986.4 2251.9 992.3 2251.9 1069.2 2251.9 1247.4 2252.0 971.8 2252.0 1005.3 2252.1 987.3 2252.1 1099.9 2252.1 977.5 2252.2 992.8 2252.2 1033.5 2252.2 1010.0 2252.3 1099.5 2252.3 1078.1 2252.3 1009.7 2252.4 1028.0 2252.4 1015.1 2252.4 988.3 2252.5 1069.6 2252.5 1024.0 2252.5 1002.5 2252.6 1096.8 2252.6 994.1 2252.6 1006.0 2252.7 1038.4 2252.7 1040.2 2252.7 955.0 2252.8 1077.0 2252.8 946.5 2252.8 1107.8 2252.9 1058.0 2252.9 1006.8 2252.9 1022.4 2253.0 990.6 2253.0 989.1 2253.0 1059.7 2253.1 1006.0 2253.1 978.0 2253.2 1113.5 2253.2 1043.6 2253.2 1004.1 2253.3 1048.7 2253.3 1036.4 2253.3 1077.9 2253.4 1064.8 2253.4 1003.5 2253.4 1020.0 2253.5 996.8 2253.5 1004.2 2253.5 1007.0 2253.6 996.2 2253.6 1061.5 2253.6 945.2 2253.7 1009.9 2253.7 988.1 2253.7 1130.8 2253.8 1011.2 2253.8 1037.2 2253.8 1033.9 2253.9 957.3 2253.9 1338.0 2253.9 1028.5 2254.0 1027.5 2254.0 923.3 2254.0 974.6 2254.1 975.7 2254.1 1057.3 2254.1 1080.8 2254.2 943.0 2254.2 1000.9 2254.2 1146.6 2254.3 1028.1 2254.3 1059.0 2254.3 1044.2 2254.4 986.0 2254.4 1035.8 2254.4 972.2 2254.5 975.5 2254.5 1247.4 2254.5 1003.2 2254.6 1020.8 2254.6 983.8 2254.6 1208.7 2254.7 1012.5 2254.7 1103.8 2254.8 1013.8 2254.8 1077.7 2254.8 1011.3 2254.9 973.1 2254.9 970.9 2254.9 1069.8 2255.0 1024.3 2255.0 983.1 2255.0 1020.5 2255.1 1052.5 2255.1 1077.0 2255.1 1160.0 2255.2 966.2 2255.2 1043.8 2255.2 1022.8 2255.3 1014.9 2255.3 1050.9 2255.3 1002.4 2255.4 1149.0 2255.4 975.8 2255.4 1090.5 2255.5 1044.3 2255.5 1030.0 2255.5 960.2 2255.6 1054.2 2255.6 1000.7 2255.6 956.1 2255.7 995.9 2255.7 1055.7 2255.7 956.3 2255.8 1030.5 2255.8 1068.8 2255.8 1105.4 2255.9 1087.0 2255.9 1040.3 2255.9 1056.5 2256.0 1004.5 2256.0 985.1 2256.0 1142.0 2256.1 1016.1 2256.1 1139.6 2256.1 1041.7 2256.2 1067.1 2256.2 1031.6 2256.2 981.4 2256.3 1134.1 2256.3 1083.2 2256.3 1166.5 2256.4 1025.8 2256.4 1017.6 2256.4 1007.7 2256.5 1014.5 2256.5 1058.5 2256.5 1142.6 2256.6 1100.2 2256.6 1063.4 2256.6 1049.4 2256.7 965.3 2256.7 1067.1 2256.7 990.8 2256.8 1066.7 2256.8 1017.5 2256.8 1131.7 2256.9 1027.1 2256.9 1044.4 2256.9 1044.8 2257.0 1140.2 2257.0 1081.9 2257.0 1064.1 2257.1 998.1 2257.1 1038.3 2257.1 1039.9 2257.2 1168.8 2257.2 1031.7 2257.2 1130.4 2257.3 1142.0 2257.3 1024.9 2257.3 1096.0 2257.4 1102.3 2257.4 1030.2 2257.4 969.9 2257.5 1062.6 2257.5 997.2 2257.5 997.0 2257.6 1026.8 2257.6 1034.8 2257.7 992.2 2257.7 1015.9 2257.7 1005.8 2257.8 1018.0 2257.8 1014.2 2257.8 1046.1 2257.9 1150.4 2257.9 1010.0 2257.9 977.5 2258.0 1003.0 2258.0 1046.1 2258.0 1005.6 2258.1 1068.5 2258.1 981.2 2258.1 1020.1 2258.2 1037.5 2258.2 1036.5 2258.2 1008.1 2258.3 1040.5 2258.3 998.9 2258.3 992.1 2258.4 1059.6 2258.4 1019.8 2258.4 997.8 2258.5 1017.9 2258.5 1096.0 2258.5 1026.3 2258.6 1029.0 2258.6 1050.2 2258.6 969.1 2258.7 1010.2 2258.7 1008.1 2258.7 1041.9 2258.8 989.2 2258.8 1016.6 2258.8 961.0 2258.9 972.6 2258.9 1074.5 2258.9 994.1 2259.0 973.5 2259.0 984.4 2259.0 987.6 2259.1 1026.0 2259.1 1150.3 2259.1 1010.3 2259.2 1132.3 2259.2 1112.8 2259.2 1074.3 2259.3 1003.6 2259.3 1001.7 2259.3 1054.8 2259.4 1038.0 2259.4 1089.1 2259.4 1059.7 2259.5 969.0 2259.5 1194.8 2259.5 1073.5 2259.6 975.8 2259.6 1024.1 2259.6 1050.0 2259.6 1022.9 2259.7 987.2 2259.7 979.3 2259.7 1043.3 2259.8 1073.3 2259.8 1016.5 2259.8 1058.3 2259.9 944.1 2259.9 1017.9 2259.9 1026.3 2260.0 1020.2 2260.0 1035.1 2260.0 1001.4 2260.1 990.9 2260.1 1012.4 2260.1 1112.8 2260.2 1100.1 2260.2 1053.5 2260.2 1079.8 2260.3 998.9 2260.3 1036.3 2260.3 1079.6 2260.4 967.9 2260.4 1016.0 2260.4 983.9 2260.5 1026.0 2260.5 989.6 2260.5 1030.7 2260.6 955.9 2260.6 1161.3 2260.6 981.8 2260.7 1038.8 2260.7 1045.7 2260.7 994.3 2260.8 973.9 2260.8 984.1 2260.8 1104.8 2260.9 981.8 2260.9 1011.3 2260.9 1004.5 2261.0 989.5 2261.0 1030.7 2261.0 1070.8 2261.1 1030.9 2261.1 1036.5 2261.1 979.9 2261.2 978.5 2261.2 989.5 2261.2 1049.8 2261.3 1010.5 2261.3 994.1 2261.3 1034.2 2261.4 1105.6 2261.4 1037.6 2261.4 1019.2 2261.5 1015.3 2261.5 1049.7 2261.5 980.5 2261.6 1079.5 2261.6 1004.0 2261.6 986.4 2261.7 1026.1 2261.7 1026.7 2261.7 1037.4 2261.8 1085.3 2261.8 1082.7 2261.8 984.6 2261.9 1063.2 2261.9 1049.7 2261.9 1043.1 2262.0 978.7 2262.0 1072.1 2262.0 1046.8 2262.1 1057.9 2262.1 1044.5 2262.1 1088.0 2262.2 1054.2 2262.2 1046.3 2262.2 983.3 2262.3 1012.3 2262.3 1131.9 2262.3 1007.2 2262.4 1160.6 2262.4 1004.6 2262.4 986.3 2262.5 1044.5 2262.5 1008.3 2262.5 1063.9 2262.5 975.9 2262.6 1039.8 2262.6 1073.1 2262.6 1017.8 2262.7 1088.1 2262.7 1040.6 2262.7 1018.1 2262.8 1055.6 2262.8 1000.6 2262.8 994.3 2262.9 1120.3 2262.9 1030.4 2262.9 987.9 2263.0 1071.8 2263.0 1167.3 2263.0 1042.2 2263.1 1002.8 2263.1 1147.2 2263.1 1051.3 2263.2 1037.5 2263.2 947.5 2263.2 1043.3 2263.3 954.7 2263.3 1000.3 2263.3 987.3 2263.4 959.4 2263.4 1019.8 2263.4 1048.9 2263.5 985.7 2263.5 1017.6 2263.5 1247.1 2263.6 963.8 2263.6 982.2 2263.6 1053.8 2263.7 989.4 2263.7 1025.7 2263.7 987.2 2263.8 1005.2 2263.8 1004.6 2263.8 1023.0 2263.9 947.6 2263.9 1149.0 2263.9 1007.4 2264.0 1035.0 2264.0 1086.6 2264.0 976.6 2264.0 1017.3 2264.1 1058.9 2264.1 1002.4 2264.1 1007.6 2264.2 994.1 2264.2 977.0 2264.2 1013.1 2264.3 1032.4 2264.3 1020.1 2264.3 980.8 2264.4 997.1 2264.4 1004.7 2264.4 1084.1 2264.5 1134.0 2264.5 1048.1 2264.5 1081.0 2264.6 983.7 2264.6 982.6 2264.6 1017.0 2264.7 1083.9 2264.7 983.1 2264.7 1062.6 2264.8 1133.0 2264.8 1095.4 2264.8 1010.5 2264.9 1015.0 2264.9 971.4 2264.9 1133.5 2265.0 1020.6 2265.0 1058.8 2265.0 1004.5 2265.1 1019.9 2265.1 1003.3 2265.1 1045.9 2265.2 965.9 2265.2 1014.4 2265.2 1005.1 2265.2 988.5 2265.3 1162.3 2265.3 993.6 2265.3 1124.8 2265.4 1167.2 2265.4 1041.2 2265.4 1068.6 2265.5 986.7 2265.5 977.4 2265.5 972.4 2265.6 973.8 2265.6 1002.3 2265.6 977.1 2265.7 1060.4 2265.7 1021.3 2265.7 1021.3 2265.8 1033.9 2265.8 942.1 2265.8 1123.1 2265.9 1106.9 2265.9 1075.0 2265.9 961.9 2266.0 1121.0 2266.0 991.9 2266.0 1049.4 2266.1 1129.2 2266.1 1108.2 2266.1 986.0 2266.2 976.8 2266.2 1182.9 2266.2 1150.4 2266.2 1000.7 2266.3 971.4 2266.3 1105.8 2266.3 993.2 2266.4 995.0 2266.4 1009.5 2266.4 1030.3 2266.5 1064.3 2266.5 1060.6 2266.5 985.6 2266.6 1098.9 2266.6 1000.3 2266.6 1068.4 2266.7 964.2 2266.7 1025.2 2266.7 1006.3 2266.8 1095.2 2266.8 1006.2 2266.8 1023.0 2266.9 1080.4 2266.9 1005.1 2266.9 1016.8 2267.0 966.0 2267.0 1085.5 2267.0 1001.1 2267.0 1069.1 2267.1 982.8 2267.1 1003.2 2267.1 1058.8 2267.2 1026.1 2267.2 1030.0 2267.2 1031.8 2267.3 1107.9 2267.3 999.9 2267.3 1002.6 2267.4 1042.3 2267.4 1069.6 2267.4 1007.0 2267.5 1092.4 2267.5 970.2 2267.5 1017.8 2267.6 1121.2 2267.6 993.8 2267.6 981.5 2267.7 961.9 2267.7 1045.7 2267.7 1236.3 2267.8 1016.4 2267.8 982.7 2267.8 1016.7 2267.8 963.6 2267.9 1059.0 2267.9 960.1 2267.9 1125.0 2268.0 1009.5 2268.0 1108.9 2268.0 1080.5 2268.1 1036.1 2268.1 1107.7 2268.1 1247.0 2268.2 1108.8 2268.2 1087.5 2268.2 1010.3 2268.3 1015.6 2268.3 1008.7 2268.3 1020.3 2268.4 1010.1 2268.4 1057.1 2268.4 1018.2 2268.5 976.5 2268.5 1051.6 2268.5 1027.9 2268.5 1076.0 2268.6 1222.0 2268.6 1038.9 2268.6 1014.7 2268.7 1009.0 2268.7 1246.9 2268.7 976.7 2268.8 1000.9 2268.8 992.7 2268.8 1052.4 2268.9 1001.2 2268.9 1026.2 2268.9 1036.7 2269.0 1063.0 2269.0 997.8 2269.0 1000.1 2269.1 1004.4 2269.1 1051.8 2269.1 1014.2 2269.2 1100.8 2269.2 1135.3 2269.2 1105.9 2269.2 1059.7 2269.3 1092.1 2269.3 961.7 2269.3 970.7 2269.4 1094.4 2269.4 1003.7 2269.4 1071.7 2269.5 991.7 2269.5 962.9 2269.5 1048.4 2269.6 963.5 2269.6 1009.5 2269.6 1020.2 2269.7 1042.5 2269.7 1037.0 2269.7 1001.3 2269.8 978.2 2269.8 1115.2 2269.8 974.4 2269.9 967.8 2269.9 1000.7 2269.9 1167.8 2269.9 1118.4 2270.0 1005.4 2270.0 1080.0 2270.0 974.6 2270.1 1030.7 2270.1 996.9 2270.1 980.5 2270.2 1093.6 2270.2 1102.5 2270.2 1005.3 2270.3 993.8 2270.3 1045.0 2270.3 1137.6 2270.4 1033.8 2270.4 1052.9 2270.4 1040.7 2270.5 1064.5 2270.5 1068.8 2270.5 1027.7 2270.5 966.9 2270.6 977.6 2270.6 1022.5 2270.6 1099.4 2270.7 1026.8 2270.7 1103.0 2270.7 1094.3 2270.8 975.9 2270.8 972.1 2270.8 1007.4 2270.9 1038.6 2270.9 1152.9 2270.9 1026.7 2271.0 1042.3 2271.0 996.1 2271.0 1085.0 2271.0 1018.2 2271.1 1101.4 2271.1 1066.1 2271.1 948.9 2271.2 1054.8 2271.2 1088.4 2271.2 1073.9 2271.3 1059.9 2271.3 1010.5 2271.3 1000.4 2271.4 1041.1 2271.4 921.3 2271.4 1012.4 2271.5 1001.8 2271.5 1077.5 2271.5 1006.1 2271.6 1013.8 2271.6 1092.0 2271.6 1275.3 2271.6 1147.9 2271.7 1033.8 2271.7 1061.3 2271.7 1218.7 2271.8 968.3 2271.8 1018.5 2271.8 1045.8 2271.9 996.8 2271.9 1031.1 2271.9 977.1 2272.0 1001.5 2272.0 952.9 2272.0 982.3 2272.1 968.4 2272.1 981.5 2272.1 974.9 2272.1 1073.9 2272.2 989.2 2272.2 1067.3 2272.2 998.5 2272.3 1093.9 2272.3 1046.2 2272.3 960.0 2272.4 1040.1 2272.4 1020.3 2272.4 985.0 2272.5 1072.0 2272.5 1051.6 2272.5 965.6 2272.6 996.5 2272.6 973.0 2272.6 1030.2 2272.6 1050.0 2272.7 1033.4 2272.7 975.4 2272.7 1067.7 2272.8 982.6 2272.8 1002.7 2272.8 1037.2 2272.9 1090.0 2272.9 1023.2 2272.9 992.7 2273.0 1114.4 2273.0 973.6 2273.0 977.1 2273.1 976.5 2273.1 1048.2 2273.1 995.8 2273.1 1098.4 2273.2 1022.2 2273.2 1033.7 2273.2 1019.4 2273.3 960.7 2273.3 973.3 2273.3 974.5 2273.4 1089.2 2273.4 1060.3 2273.4 1121.2 2273.5 1047.3 2273.5 1121.1 2273.5 988.7 2273.5 1008.4 2273.6 1043.5 2273.6 1018.3 2273.6 984.1 2273.7 999.6 2273.7 1071.8 2273.7 1060.5 2273.8 1075.3 2273.8 1080.2 2273.8 992.3 2273.9 947.8 2273.9 1001.7 2273.9 1122.4 2274.0 977.6 2274.0 946.3 2274.0 954.6 2274.0 1010.0 2274.1 1143.2 2274.1 1112.7 2274.1 1017.5 2274.2 1125.0 2274.2 980.3 2274.2 1026.1 2274.3 1016.4 2274.3 1157.9 2274.3 1142.4 2274.4 964.4 2274.4 1023.8 2274.4 1004.4 2274.4 983.1 2274.5 1142.2 2274.5 1025.8 2274.5 1070.9 2274.6 1001.3 2274.6 977.4 2274.6 998.8 2274.7 1015.9 2274.7 1051.6 2274.7 1056.8 2274.8 1015.4 2274.8 1007.5 2274.8 959.8 2274.9 993.8 2274.9 980.8 2274.9 1006.4 2274.9 1005.0 2275.0 961.9 2275.0 1041.4 2275.0 1154.3 2275.1 1004.6 2275.1 931.7 2275.1 1171.2 2275.2 1061.3 2275.2 956.1 2275.2 1047.3 2275.3 994.0 2275.3 1106.1 2275.3 1069.9 2275.3 933.4 2275.4 1020.2 2275.4 988.6 2275.4 1074.3 2275.5 1047.1 2275.5 1144.6 2275.5 1005.6 2275.6 1041.8 2275.6 993.0 2275.6 1014.1 2275.7 989.5 2275.7 1097.1 2275.7 1060.2 2275.7 1027.9 2275.8 1014.1 2275.8 983.1 2275.8 1034.3 2275.9 1070.1 2275.9 1039.5 2275.9 959.4 2276.0 1010.5 2276.0 1100.6 2276.0 1089.0 2276.1 1048.8 2276.1 1040.5 2276.1 1028.8 2276.1 1043.1 2276.2 1080.9 2276.2 1038.5 2276.2 945.6 2276.3 1079.5 2276.3 996.2 2276.3 1014.7 2276.4 1049.1 2276.4 1055.1 2276.4 994.6 2276.5 1095.9 2276.5 955.1 2276.5 1072.3 2276.5 1077.1 2276.6 964.1 2276.6 1043.3 2276.6 997.7 2276.7 1081.2 2276.7 1019.4 2276.7 1049.3 2276.8 993.2 2276.8 1003.6 2276.8 1110.2 2276.8 946.9 2276.9 971.2 2276.9 1134.2 2276.9 1011.9 2277.0 1034.1 2277.0 1039.6 2277.0 1009.6 2277.1 1051.5 2277.1 1286.3 2277.1 1027.0 2277.2 1043.8 2277.2 1011.0 2277.2 1069.0 2277.2 945.6 2277.3 1063.1 2277.3 994.1 2277.3 977.1 2277.4 1040.8 2277.4 989.8 2277.4 936.0 2277.5 969.5 2277.5 1005.9 2277.5 1085.5 2277.6 1022.9 2277.6 1002.2 2277.6 960.0 2277.6 965.0 2277.7 1002.6 2277.7 1014.1 2277.7 1069.4 2277.8 997.7 2277.8 972.4 2277.8 1002.0 2277.9 1017.5 2277.9 977.6 2277.9 994.8 2277.9 1001.0 2278.0 1106.4 2278.0 991.5 2278.0 1095.8 2278.1 1045.9 2278.1 1012.2 2278.1 1009.7 2278.2 1001.1 2278.2 1075.2 2278.2 1027.6 2278.3 1043.9 2278.3 1096.3 2278.3 1104.7 2278.3 1098.5 2278.4 1091.0 2278.4 1046.9 2278.4 1019.7 2278.5 976.6 2278.5 1083.3 2278.5 963.8 2278.6 991.2 2278.6 1015.0 2278.6 1016.8 2278.6 1128.3 2278.7 1049.5 2278.7 1147.0 2278.7 1097.8 2278.8 1022.6 2278.8 1005.2 2278.8 1086.1 2278.9 1045.9 2278.9 960.2 2278.9 986.6 2279.0 1040.5 2279.0 1005.0 2279.0 960.4 2279.0 991.4 2279.1 1022.2 2279.1 1044.8 2279.1 1013.9 2279.2 1246.6 2279.2 994.8 2279.2 1027.9 2279.3 996.1 2279.3 979.9 2279.3 1031.1 2279.3 1071.8 2279.4 1030.9 2279.4 1023.8 2279.4 1012.8 2279.5 1025.7 2279.5 952.8 2279.5 976.9 2279.6 1040.0 2279.6 958.8 2279.6 1031.0 2279.6 1057.8 2279.7 1094.9 2279.7 1015.6 2279.7 1033.3 2279.8 1028.7 2279.8 1002.7 2279.8 1009.7 2279.9 1003.7 2279.9 985.3 2279.9 1053.6 2279.9 981.8 2280.0 1044.9 2280.0 1002.1 2280.0 986.8 2280.1 1066.7 2280.1 999.6 2280.1 999.5 2280.2 983.9 2280.2 1020.1 2280.2 1028.1 2280.2 999.0 2280.3 1024.5 2280.3 1004.6 2280.3 1008.7 2280.4 988.2 2280.4 1103.5 2280.4 1008.8 2280.5 1018.6 2280.5 1034.2 2280.5 989.4 2280.6 1038.6 2280.6 1084.4 2280.6 948.9 2280.6 1007.7 2280.7 1003.6 2280.7 998.1 2280.7 1085.2 2280.8 1007.5 2280.8 1110.6 2280.8 961.9 2280.9 979.4 2280.9 969.9 2280.9 1155.8 2280.9 1096.0 2281.0 1029.3 2281.0 1042.5 2281.0 1103.6 2281.1 998.4 2281.1 1015.7 2281.1 1000.1 2281.2 1017.4 2281.2 985.3 2281.2 1026.2 2281.2 943.8 2281.3 963.0 2281.3 1028.0 2281.3 1033.4 2281.4 1082.2 2281.4 995.6 2281.4 1042.2 2281.5 990.8 2281.5 1101.8 2281.5 1069.0 2281.5 1000.8 2281.6 1054.4 2281.6 1141.9 2281.6 993.2 2281.7 979.5 2281.7 983.6 2281.7 1056.5 2281.7 1023.4 2281.8 1058.1 2281.8 1014.7 2281.8 1058.5 2281.9 1029.5 2281.9 953.4 2281.9 1074.1 2282.0 993.8 2282.0 1117.5 2282.0 1011.1 2282.0 1027.3 2282.1 1097.2 2282.1 1185.1 2282.1 982.9 2282.2 1093.8 2282.2 1055.1 2282.2 1039.2 2282.3 1061.7 2282.3 1000.6 2282.3 1054.5 2282.3 1066.1 2282.4 984.6 2282.4 1033.9 2282.4 1031.2 2282.5 964.4 2282.5 1012.0 2282.5 1021.8 2282.6 1044.8 2282.6 1013.5 2282.6 1066.3 2282.6 1102.6 2282.7 1023.8 2282.7 971.5 2282.7 990.6 2282.8 1053.6 2282.8 1024.4 2282.8 1051.9 2282.9 967.6 2282.9 1063.0 2282.9 1111.3 2282.9 1058.7 2283.0 1121.9 2283.0 1049.2 2283.0 997.0 2283.1 1011.6 2283.1 1054.0 2283.1 1030.8 2283.2 1106.4 2283.2 1162.2 2283.2 988.6 2283.2 1004.0 2283.3 995.2 2283.3 1001.5 2283.3 1025.4 2283.4 1068.1 2283.4 1060.8 2283.4 973.9 2283.4 1063.7 2283.5 1104.8 2283.5 1003.6 2283.5 1010.8 2283.6 1001.8 2283.6 1053.1 2283.6 1042.4 2283.7 1057.7 2283.7 1076.7 2283.7 997.6 2283.7 945.1 2283.8 995.0 2283.8 1021.6 2283.8 1104.7 2283.9 937.1 2283.9 1018.0 2283.9 1067.7 2284.0 1051.2 2284.0 1002.5 2284.0 1037.8 2284.0 997.4 2284.1 952.1 2284.1 990.1 2284.1 1117.7 2284.2 1074.8 2284.2 1019.1 2284.2 1011.9 2284.2 969.4 2284.3 1037.6 2284.3 1103.1 2284.3 1023.2 2284.4 1047.9 2284.4 1078.2 2284.4 1085.2 2284.5 1013.5 2284.5 1063.2 2284.5 1034.2 2284.5 966.1 2284.6 1038.6 2284.6 972.4 2284.6 979.6 2284.7 1075.3 2284.7 1015.4 2284.7 1030.0 2284.7 1005.0 2284.8 1080.9 2284.8 1040.1 2284.8 1010.8 2284.9 1049.0 2284.9 985.2 2284.9 1005.2 2285.0 965.2 2285.0 992.2 2285.0 1093.0 2285.0 1018.4 2285.1 1027.3 2285.1 1079.0 2285.1 990.6 2285.2 982.3 2285.2 1002.4 2285.2 1011.9 2285.2 974.7 2285.3 986.6 2285.3 1020.3 2285.3 1045.0 2285.4 1081.9 2285.4 1000.5 2285.4 990.4 2285.5 1061.9 2285.5 1038.4 2285.5 959.0 2285.5 1048.2 2285.6 1035.0 2285.6 1040.8 2285.6 963.5 2285.7 977.8 2285.7 1030.2 2285.7 1066.0 2285.7 983.4 2285.8 1084.9 2285.8 1065.9 2285.8 1022.9 2285.9 1217.5 2285.9 1053.7 2285.9 1045.0 2286.0 1100.4 2286.0 974.3 2286.0 1005.8 2286.0 1015.3 2286.1 1017.7 2286.1 1062.2 2286.1 1030.8 2286.2 997.2 2286.2 1005.2 2286.2 1011.4 2286.2 1054.4 2286.3 1059.7 2286.3 1105.2 2286.3 961.5 2286.4 1100.9 2286.4 980.9 2286.4 1001.6 2286.5 964.8 2286.5 970.6 2286.5 1079.6 2286.5 968.2 2286.6 980.0 2286.6 1122.8 2286.6 1016.6 2286.7 998.5 2286.7 1117.1 2286.7 974.4 2286.7 1016.1 2286.8 958.4 2286.8 1000.6 2286.8 1048.4 2286.9 1033.4 2286.9 973.8 2286.9 951.1 2286.9 997.2 2287.0 954.9 2287.0 993.9 2287.0 999.1 2287.1 973.5 2287.1 999.7 2287.1 1080.2 2287.2 999.0 2287.2 1001.4 2287.2 1090.4 2287.2 1070.0 2287.3 1020.8 2287.3 1208.3 2287.3 1091.8 2287.4 1013.3 2287.4 995.7 2287.4 1141.9 2287.4 1025.3 2287.5 1057.4 2287.5 1074.2 2287.5 1042.5 2287.6 1044.3 2287.6 962.9 2287.6 979.4 2287.6 990.0 2287.7 977.2 2287.7 1066.5 2287.7 991.7 2287.8 1007.7 2287.8 1025.9 2287.8 1017.2 2287.9 963.5 2287.9 1062.3 2287.9 1128.1 2287.9 965.7 2288.0 1043.5 2288.0 1043.0 2288.0 989.3 2288.1 996.5 2288.1 974.3 2288.1 1056.6 2288.1 1076.7 2288.2 1003.6 2288.2 1021.8 2288.2 978.5 2288.3 1041.8 2288.3 1058.0 2288.3 1036.6 2288.3 1072.7 2288.4 995.5 2288.4 973.5 2288.4 1009.4 2288.5 993.8 2288.5 1056.5 2288.5 1021.0 2288.5 1154.2 2288.6 1044.1 2288.6 1005.4 2288.6 984.1 2288.7 1032.3 2288.7 1079.0 2288.7 1107.0 2288.8 1006.8 2288.8 957.8 2288.8 998.9 2288.8 998.3 2288.9 1025.3 2288.9 981.5 2288.9 1008.0 2289.0 1066.3 2289.0 971.4 2289.0 1047.7 2289.0 1046.7 2289.1 1013.0 2289.1 1006.4 2289.1 972.7 2289.2 975.9 2289.2 931.3 2289.2 1044.7 2289.2 998.2 2289.3 973.8 2289.3 1015.6 2289.3 986.6 2289.4 1123.1 2289.4 1076.7 2289.4 1057.3 2289.4 991.5 2289.5 1113.7 2289.5 929.8 2289.5 1007.9 2289.6 991.5 2289.6 1104.2 2289.6 995.4 2289.6 947.0 2289.7 996.9 2289.7 1007.7 2289.7 1088.1 2289.8 1035.9 2289.8 991.4 2289.8 1126.0 2289.8 995.8 2289.9 1013.5 2289.9 1048.5 2289.9 1004.3 2290.0 1052.5 2290.0 1009.4 2290.0 1050.9 2290.0 1012.8 2290.1 1035.4 2290.1 1016.9 2290.1 1042.9 2290.2 1070.2 2290.2 1014.8 2290.2 1088.8 2290.3 1161.2 2290.3 1037.4 2290.3 998.6 2290.3 1068.3 2290.4 1064.6 2290.4 1035.0 2290.4 1077.1 2290.5 976.5 2290.5 995.5 2290.5 1088.8 2290.5 995.6 2290.6 963.2 2290.6 1016.0 2290.6 1192.4 2290.7 1016.4 2290.7 1053.0 2290.7 968.0 2290.7 968.4 2290.8 999.9 2290.8 1020.2 2290.8 1023.1 2290.9 980.0 2290.9 1028.7 2290.9 1048.8 2290.9 1061.6 2291.0 1054.5 2291.0 1011.5 2291.0 963.6 2291.1 1111.0 2291.1 996.7 2291.1 1018.3 2291.1 1075.9 2291.2 1033.4 2291.2 969.7 2291.2 996.5 2291.3 995.5 2291.3 1072.8 2291.3 1124.1 2291.3 997.9 2291.4 1046.1 2291.4 965.5 2291.4 961.4 2291.5 1137.6 2291.5 1160.9 2291.5 998.5 2291.5 1002.5 2291.6 1042.5 2291.6 1065.0 2291.6 1034.2 2291.7 961.0 2291.7 1076.7 2291.7 1017.6 2291.7 1016.8 2291.8 999.2 2291.8 979.8 2291.8 1012.3 2291.9 954.7 2291.9 950.6 2291.9 980.6 2291.9 1039.6 2292.0 1112.2 2292.0 1138.5 2292.0 979.3 2292.1 1042.6 2292.1 942.0 2292.1 1167.8 2292.1 1070.7 2292.2 1051.1 2292.2 1232.5 2292.2 1018.1 2292.3 1061.5 2292.3 1098.7 2292.3 1128.0 2292.3 1014.0 2292.4 956.1 2292.4 1057.2 2292.4 1028.3 2292.5 982.6 2292.5 1052.3 2292.5 1054.8 2292.5 1091.5 2292.6 1027.8 2292.6 1007.8 2292.6 1029.7 2292.7 1020.3 2292.7 1010.6 2292.7 1019.9 2292.7 1084.7 2292.8 1043.9 2292.8 1014.9 2292.8 951.5 2292.9 1070.6 2292.9 983.6 2292.9 1063.8 2292.9 1067.6 2293.0 1002.6 2293.0 1035.5 2293.0 998.5 2293.0 1007.5 2293.1 971.5 2293.1 991.9 2293.1 1031.2 2293.2 980.2 2293.2 1016.2 2293.2 1016.8 2293.2 995.6 2293.3 938.6 2293.3 979.6 2293.3 986.0 2293.4 1142.7 2293.4 1027.0 2293.4 1059.6 2293.4 970.2 2293.5 1015.9 2293.5 1030.9 2293.5 1039.9 2293.6 981.5 2293.6 1023.9 2293.6 1021.2 2293.6 1059.4 2293.7 1012.8 2293.7 1325.0 2293.7 1003.8 2293.8 992.6 2293.8 1040.3 2293.8 1129.8 2293.8 1036.0 2293.9 981.3 2293.9 1060.9 2293.9 958.9 2294.0 1022.8 2294.0 1065.1 2294.0 1063.0 2294.0 1009.6 2294.1 1001.9 2294.1 997.4 2294.1 1037.0 2294.2 963.4 2294.2 1088.2 2294.2 1083.8 2294.2 1019.9 2294.3 987.3 2294.3 989.4 2294.3 988.4 2294.3 986.7 2294.4 943.5 2294.4 1004.8 2294.4 1094.2 2294.5 1002.0 2294.5 984.1 2294.5 947.7 2294.5 962.3 2294.6 1004.0 2294.6 981.6 2294.6 993.6 2294.7 1155.3 2294.7 1018.6 2294.7 993.3 2294.7 973.5 2294.8 1045.7 2294.8 960.5 2294.8 1014.6 2294.9 1034.6 2294.9 998.2 2294.9 1007.8 2294.9 1037.2 2295.0 986.5 2295.0 1040.9 2295.0 1104.3 2295.1 1083.7 2295.1 1043.5 2295.1 1035.4 2295.1 1020.4 2295.2 1131.7 2295.2 1069.0 2295.2 966.5 2295.2 984.5 2295.3 1008.1 2295.3 959.7 2295.3 1073.6 2295.4 1009.8 2295.4 959.4 2295.4 1015.9 2295.4 1100.0 2295.5 1011.6 2295.5 1074.1 2295.5 1002.1 2295.6 1066.8 2295.6 1088.6 2295.6 1042.7 2295.6 1055.7 2295.7 1088.0 2295.7 1007.1 2295.7 1024.7 2295.8 1024.9 2295.8 995.7 2295.8 997.1 2295.8 1020.1 2295.9 971.4 2295.9 975.5 2295.9 962.1 2296.0 980.5 2296.0 990.5 2296.0 964.5 2296.0 987.1 2296.1 996.0 2296.1 1002.8 2296.1 1075.7 2296.1 999.4 2296.2 931.7 2296.2 1065.6 2296.2 975.6 2296.3 1063.6 2296.3 973.5 2296.3 1177.7 2296.3 955.2 2296.4 1167.5 2296.4 1014.9 2296.4 1030.2 2296.5 1061.7 2296.5 1025.3 2296.5 1070.5 2296.5 968.6 2296.6 1053.2 2296.6 1046.8 2296.6 1080.5 2296.6 1007.1 2296.7 1043.6 2296.7 1086.7 2296.7 969.2 2296.8 948.2 2296.8 1043.5 2296.8 1024.4 2296.8 1052.4 2296.9 1003.7 2296.9 982.6 2296.9 1201.1 2297.0 984.1 2297.0 1115.9 2297.0 996.7 2297.0 1155.3 2297.1 1004.3 2297.1 999.4 2297.1 1006.2 2297.2 1043.1 2297.2 1024.2 2297.2 1052.7 2297.2 1032.7 2297.3 1198.4 2297.3 1065.3 2297.3 1071.5 2297.3 997.4 2297.4 1016.0 2297.4 997.8 2297.4 1086.6 2297.5 985.3 2297.5 959.6 2297.5 1020.2 2297.5 968.2 2297.6 1057.1 2297.6 1083.2 2297.6 1040.9 2297.7 966.1 2297.7 1145.3 2297.7 1010.9 2297.7 1007.5 2297.8 1067.2 2297.8 1125.4 2297.8 986.9 2297.8 1029.0 2297.9 1046.2 2297.9 990.9 2297.9 989.9 2298.0 1049.4 2298.0 1035.0 2298.0 1166.3 2298.0 1096.2 2298.1 1019.4 2298.1 999.5 2298.1 1083.9 2298.1 959.8 2298.2 1056.5 2298.2 1046.3 2298.2 1035.6 2298.3 1045.6 2298.3 1006.6 2298.3 1066.2 2298.3 966.0 2298.4 1082.4 2298.4 974.4 2298.4 1053.4 2298.5 987.8 2298.5 987.4 2298.5 1003.7 2298.5 990.2 2298.6 1042.1 2298.6 983.3 2298.6 1050.2 2298.6 1005.8 2298.7 979.2 2298.7 1032.7 2298.7 1019.0 2298.8 1246.0 2298.8 1045.1 2298.8 1120.3 2298.8 1043.5 2298.9 1037.0 2298.9 1029.6 2298.9 1016.2 2299.0 1021.1 2299.0 1012.0 2299.0 976.6 2299.0 1039.6 2299.1 1227.2 2299.1 1011.9 2299.1 1038.2 2299.1 991.9 2299.2 1116.1 2299.2 1014.6 2299.2 936.3 2299.3 1023.4 2299.3 1001.8 2299.3 1005.7 2299.3 1085.4 2299.4 950.5 2299.4 983.3 2299.4 1119.4 2299.4 1076.6 2299.5 977.9 2299.5 1059.8 2299.5 1068.5 2299.6 1076.5 2299.6 1030.5 2299.6 1093.6 2299.6 996.2 2299.7 1000.2 2299.7 1006.6 2299.7 1181.2 2299.8 1114.3 2299.8 1138.7 2299.8 1053.1 2299.8 1000.1 2299.9 973.2 2299.9 1016.2 2299.9 976.0 2299.9 1052.5 2300.0 1096.4 2300.0 985.6 2300.0 952.3 2300.1 1059.4 2300.1 1099.1 2300.1 1004.0 2300.1 1058.9 2300.2 953.7 2300.2 973.8 2300.2 1015.2 2300.2 966.3 2300.3 1046.2 2300.3 1008.1 2300.3 1028.7 2300.4 1092.6 2300.4 984.8 2300.4 1139.2 2300.4 995.6 2300.5 994.0 2300.5 968.6 2300.5 1019.3 2300.5 1005.7 2300.6 1087.5 2300.6 1116.2 2300.6 1066.1 2300.7 1056.5 2300.7 994.4 2300.7 1039.6 2300.7 976.7 2300.8 957.8 2300.8 987.6 2300.8 1009.4 2300.8 991.8 2300.9 1107.8 2300.9 1063.3 2300.9 1004.2 2301.0 1019.2 2301.0 1043.1 2301.0 1084.7 2301.0 1065.8 2301.1 1099.8 2301.1 1013.2 2301.1 1026.2 2301.1 967.5 2301.2 1049.2 2301.2 994.7 2301.2 1087.5 2301.3 981.0 2301.3 1111.4 2301.3 964.6 2301.3 949.1 2301.4 1004.4 2301.4 1027.2 2301.4 1026.7 2301.4 1040.3 2301.5 977.8 2301.5 1046.7 2301.5 1152.1 2301.6 1037.3 2301.6 1017.1 2301.6 1145.6 2301.6 1049.5 2301.7 1048.6 2301.7 1125.8 2301.7 968.7 2301.7 1031.5 2301.8 1125.9 2301.8 1035.4 2301.8 1017.3 2301.9 1013.0 2301.9 962.7 2301.9 950.0 2301.9 1017.4 2302.0 1043.3 2302.0 1246.0 2302.0 979.3 2302.0 1057.8 2302.1 1033.7 2302.1 1040.5 2302.1 1061.2 2302.2 1016.8 2302.2 1099.2 2302.2 995.6 2302.2 1046.0 2302.3 1042.3 2302.3 950.5 2302.3 1035.5 2302.3 1058.1 2302.4 1018.3 2302.4 1024.2 2302.4 1002.3 2302.5 1064.3 2302.5 963.2 2302.5 1008.3 2302.5 1060.8 2302.6 1028.1 2302.6 975.6 2302.6 1056.1 2302.6 1153.6 2302.7 994.9 2302.7 1068.8 2302.7 1077.7 2302.8 956.1 2302.8 1009.8 2302.8 1045.1 2302.8 1037.4 2302.9 1021.6 2302.9 1148.7 2302.9 978.3 2302.9 1060.3 2303.0 1099.5 2303.0 1074.6 2303.0 1037.9 2303.1 979.3 2303.1 1007.3 2303.1 1029.5 2303.1 1044.4 2303.2 1009.7 2303.2 1127.8 2303.2 971.0 2303.2 1025.0 2303.3 1071.9 2303.3 1043.2 2303.3 998.2 2303.3 1026.5 2303.4 1116.3 2303.4 966.0 2303.4 1037.1 2303.5 1036.8 2303.5 1083.6 2303.5 962.8 2303.5 957.0 2303.6 1078.8 2303.6 1025.7 2303.6 957.0 2303.6 970.8 2303.7 999.4 2303.7 1028.1 2303.7 984.8 2303.8 1125.8 2303.8 1047.8 2303.8 1053.2 2303.8 1017.9 2303.9 1071.5 2303.9 1001.5 2303.9 998.7 2303.9 1104.8 2304.0 972.3 2304.0 979.3 2304.0 1071.0 2304.0 998.0 2304.1 1025.3 2304.1 1066.4 2304.1 1022.3 2304.2 1028.2 2304.2 1134.3 2304.2 1008.3 2304.2 1017.5 2304.3 1016.5 2304.3 1110.0 2304.3 1029.8 2304.3 984.5 2304.4 958.4 2304.4 965.5 2304.4 1067.2 2304.5 994.8 2304.5 1052.9 2304.5 1045.0 2304.5 980.7 2304.6 997.6 2304.6 968.0 2304.6 1011.1 2304.6 996.4 2304.7 1006.9 2304.7 987.6 2304.7 1056.9 2304.7 993.6 2304.8 968.6 2304.8 1006.0 2304.8 1099.9 2304.9 1000.0 2304.9 1035.9 2304.9 1064.5 2304.9 950.2 2305.0 1026.6 2305.0 1095.1 2305.0 997.0 2305.0 1026.1 2305.1 970.3 2305.1 1101.7 2305.1 1070.6 2305.2 1015.3 2305.2 989.6 2305.2 1005.0 2305.2 1069.2 2305.3 1010.4 2305.3 1016.4 2305.3 1000.8 2305.3 974.7 2305.4 1097.8 2305.4 1033.5 2305.4 1053.6 2305.4 968.6 2305.5 1118.6 2305.5 1028.5 2305.5 1053.3" fill="none" stroke="#0155aa" stroke-width="7" stroke-linejoin="round" stroke-linecap="round"/>
<rect x="1637.9" y="178.8" width="597.3" height="216.9" fill="#fff"/>
<path d="M331.6 67.5H2297.5V1530.9H331.6Z" stroke="#000" stroke-width="5.3" stroke-linejoin="round" fill="none"/>
<path d="M331.6 67.50H360M331.6 292.65H360M331.6 517.80H360M331.6 742.95H360M331.6 968.10H360M331.6 1193.25H360M331.6 1418.40H360M331.6 180.07H345.4M331.6 405.23H345.4M331.6 630.38H345.4M331.6 855.52H345.4M331.6 1080.68H345.4M331.6 1305.83H345.4M392.92 1530.9V1516.6M440.55 1530.9V1516.6M479.47 1530.9V1516.6M512.37 1530.9V1516.6M540.87 1530.9V1516.6M566.01 1530.9V1516.6M588.50 1530.9V1502.7M736.45 1530.9V1516.6M822.99 1530.9V1516.6M884.39 1530.9V1516.6M932.02 1530.9V1516.6M970.94 1530.9V1516.6M1003.84 1530.9V1516.6M1032.34 1530.9V1516.6M1057.48 1530.9V1516.6M1079.97 1530.9V1502.7M1227.92 1530.9V1516.6M1314.46 1530.9V1516.6M1375.86 1530.9V1516.6M1423.49 1530.9V1516.6M1462.41 1530.9V1516.6M1495.31 1530.9V1516.6M1523.81 1530.9V1516.6M1548.95 1530.9V1516.6M1571.44 1530.9V1502.7M1719.39 1530.9V1516.6M1805.93 1530.9V1516.6M1867.33 1530.9V1516.6M1914.96 1530.9V1516.6M1953.88 1530.9V1516.6M1986.78 1530.9V1516.6M2015.28 1530.9V1516.6M2040.42 1530.9V1516.6M2062.91 1530.9V1502.7M2210.86 1530.9V1516.6" stroke="#000" stroke-width="5.3" stroke-linecap="round" fill="none"/>
<path d="M1568.3 69.3V1496" stroke="#808080" stroke-width="7.2" stroke-linecap="round" stroke-dasharray="31.8 37.6" fill="none"/>
<text x="300.5" y="91.9" font-family="'Liberation Sans', sans-serif" font-size="89" text-anchor="end" transform="translate(0 91.9) scale(1 1.02) translate(0 -91.9)">0</text>
<text x="300.5" y="317.0" font-family="'Liberation Sans', sans-serif" font-size="89" text-anchor="end" transform="translate(0 317.0) scale(1 1.02) translate(0 -317.0)">-20</text>
<text x="300.5" y="542.2" font-family="'Liberation Sans', sans-serif" font-size="89" text-anchor="end" transform="translate(0 542.2) scale(1 1.02) translate(0 -542.2)">-40</text>
<text x="300.5" y="767.4" font-family="'Liberation Sans', sans-serif" font-size="89" text-anchor="end" transform="translate(0 767.4) scale(1 1.02) translate(0 -767.4)">-60</text>
<text x="300.5" y="992.5" font-family="'Liberation Sans', sans-serif" font-size="89" text-anchor="end" transform="translate(0 992.5) scale(1 1.02) translate(0 -992.5)">-80</text>
<text x="300.5" y="1217.7" font-family="'Liberation Sans', sans-serif" font-size="89" text-anchor="end" transform="translate(0 1217.7) scale(1 1.02) translate(0 -1217.7)">-100</text>
<path transform="translate(152.01 1217.7) scale(1 1.02)" d="M4.35 -6.87H22.29V1.2H4.35Z M30.33 -6.87H47.59V1.2H30.33Z" fill="#fff"/>
<text x="300.5" y="1442.8" font-family="'Liberation Sans', sans-serif" font-size="89" text-anchor="end" transform="translate(0 1442.8) scale(1 1.02) translate(0 -1442.8)">-120</text>
<path transform="translate(152.01 1442.8) scale(1 1.02)" d="M4.35 -6.87H22.29V1.2H4.35Z M30.33 -6.87H47.59V1.2H30.33Z" fill="#fff"/>
<g transform="translate(526.6 1649) scale(0.97 1.045)"><text font-family="'Liberation Sans', sans-serif" font-size="89">10</text><path d="M4.35 -6.87H22.29V1.2H4.35Z M30.33 -6.87H47.59V1.2H30.33Z" fill="#fff"/></g>
<text x="622.3" y="1599" font-family="'Liberation Sans', sans-serif" font-size="54">4</text>
<g transform="translate(1018.1 1649) scale(0.97 1.045)"><text font-family="'Liberation Sans', sans-serif" font-size="89">10</text><path d="M4.35 -6.87H22.29V1.2H4.35Z M30.33 -6.87H47.59V1.2H30.33Z" fill="#fff"/></g>
<text x="1113.8" y="1599" font-family="'Liberation Sans', sans-serif" font-size="54">5</text>
<g transform="translate(1509.5 1649) scale(0.97 1.045)"><text font-family="'Liberation Sans', sans-serif" font-size="89">10</text><path d="M4.35 -6.87H22.29V1.2H4.35Z M30.33 -6.87H47.59V1.2H30.33Z" fill="#fff"/></g>
<text x="1605.2" y="1599" font-family="'Liberation Sans', sans-serif" font-size="54">6</text>
<g transform="translate(2001.0 1649) scale(0.97 1.045)"><text font-family="'Liberation Sans', sans-serif" font-size="89">10</text><path d="M4.35 -6.87H22.29V1.2H4.35Z M30.33 -6.87H47.59V1.2H30.33Z" fill="#fff"/></g>
<text x="2096.7" y="1599" font-family="'Liberation Sans', sans-serif" font-size="54">7</text>
<text transform="translate(1014 1795) scale(1 1.045)" font-family="'Liberation Sans', sans-serif" font-size="80" font-weight="bold">Frequency (Hz)</text>
<text transform="translate(86.6 1228.5) rotate(-90) scale(1 1.045)" font-family="'Liberation Sans', sans-serif" font-size="81.5" font-weight="bold">Output Spectrum (dB)</text>
<text transform="translate(1678.5 273.3) scale(1 1.03)" font-family="'Liberation Sans', sans-serif" font-size="70.3">SNDR: 72.50 dB</text>
<text transform="translate(1678.5 359.1) scale(1 1.03)" font-family="'Liberation Sans', sans-serif" font-size="70.3">SFDR: 78.57 dB</text>
</svg>
</body></html>
